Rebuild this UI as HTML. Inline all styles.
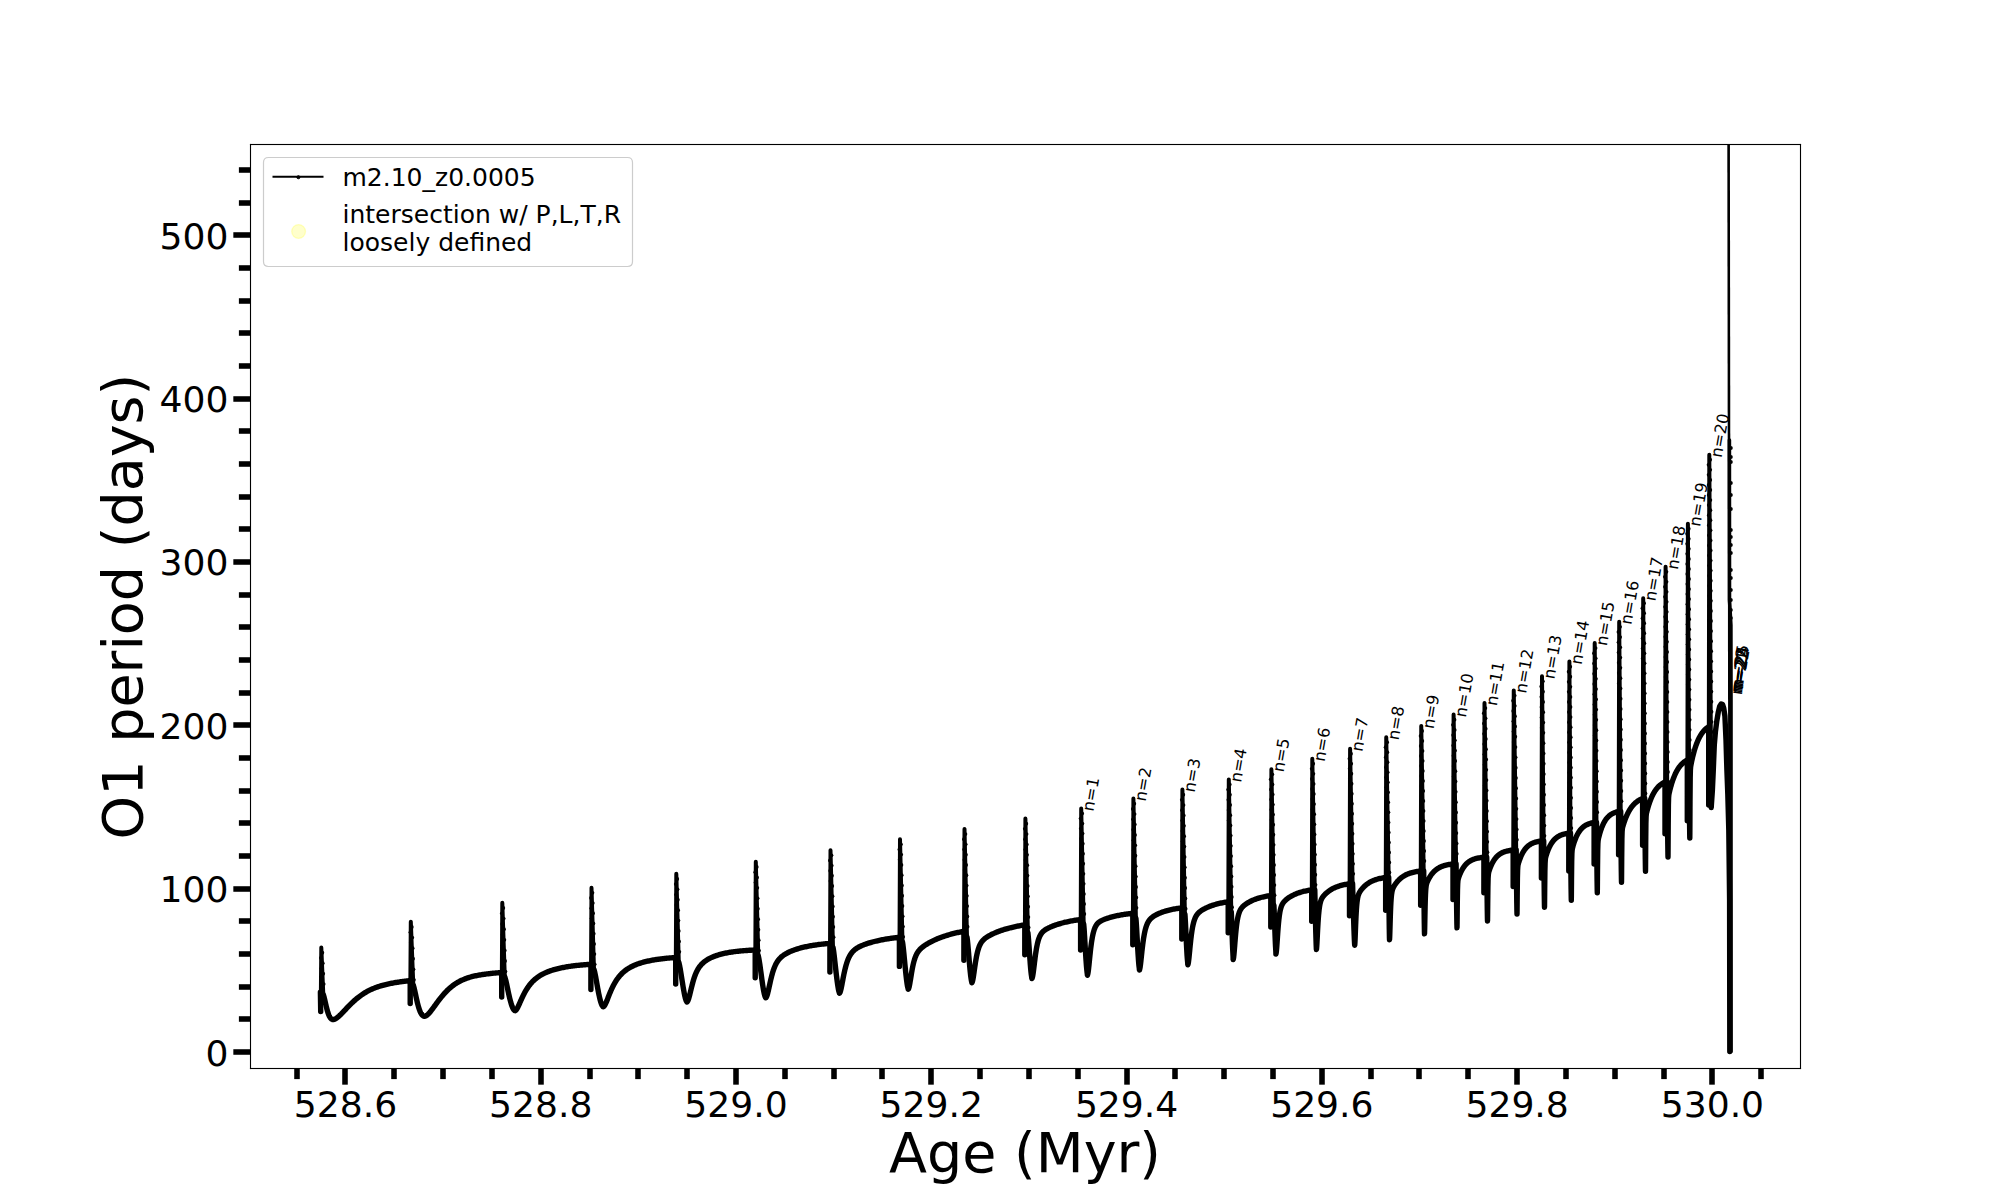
<!DOCTYPE html>
<html><head><meta charset="utf-8"><title>O1 period vs Age</title>
<style>html,body{margin:0;padding:0;background:#fff;}svg{display:block;}</style></head><body>
<svg width="2000" height="1200" viewBox="0 0 2000 1200">
<rect x="0" y="0" width="2000" height="1200" fill="#fff"/>
<clipPath id="ax"><rect x="250" y="144" width="1551" height="924"/></clipPath>
<g clip-path="url(#ax)" fill="none" stroke="#000" stroke-linejoin="round" stroke-linecap="round">
<path d="M320.4 992.2 L320.7 1011.5" stroke-width="5.4"/>
<path d="M323.3 994.55 L323.5 995.17 L323.7 995.84 L323.9 996.55 L324.1 997.3 L324.3 998.08 L324.5 998.89 L324.7 999.72 L324.9 1000.57 L325.1 1001.43 L325.3 1002.3 L325.5 1003.17 L325.7 1004.04 L325.9 1004.91 L326.1 1005.76 L326.3 1006.6 L326.5 1007.41 L326.7 1008.21 L326.9 1008.98 L327.1 1009.73 L327.3 1010.45 L327.5 1011.14 L327.7 1011.81 L327.9 1012.44 L328.1 1013.04 L328.3 1013.61 L328.5 1014.15 L328.7 1014.67 L328.9 1015.15 L329.1 1015.6 L329.3 1016.02 L329.5 1016.42 L329.7 1016.78 L329.9 1017.12 L330.1 1017.44 L330.3 1017.73 L330.5 1017.99 L330.7 1018.23 L330.9 1018.45 L331.1 1018.64 L331.3 1018.82 L331.5 1018.97 L331.7 1019.11 L331.9 1019.22 L332.1 1019.32 L332.3 1019.41 L332.5 1019.47 L332.7 1019.52 L332.75 1019.56 L332.8 1019.59 L332.85 1019.6 L332.9 1019.6 L333.1 1019.59 L333.3 1019.57 L333.5 1019.54 L333.7 1019.5 L333.9 1019.45 L334.1 1019.39 L334.3 1019.33 L334.5 1019.25 L334.7 1019.17 L334.9 1019.08 L335.1 1018.99 L335.3 1018.88 L335.5 1018.77 L335.7 1018.66 L335.9 1018.54 L336.1 1018.41 L336.3 1018.28 L336.5 1018.14 L336.7 1018 L336.9 1017.85 L337.1 1017.7 L337.3 1017.55 L337.5 1017.39 L337.7 1017.23 L337.9 1017.06 L338.1 1016.89 L338.3 1016.72 L338.5 1016.55 L338.7 1016.37 L338.9 1016.19 L339.1 1016.01 L339.3 1015.82 L339.5 1015.63 L339.7 1015.44 L339.9 1015.25 L340.1 1015.06 L340.3 1014.86 L340.5 1014.67 L340.7 1014.47 L340.9 1014.27 L341.1 1014.07 L341.3 1013.87 L341.5 1013.66 L341.7 1013.46 L341.9 1013.25 L342.1 1013.05 L342.3 1012.84 L342.5 1012.63 L342.7 1012.43 L342.9 1012.22 L343.1 1012.01 L343.3 1011.8 L343.5 1011.59 L343.7 1011.38 L343.9 1011.17 L344.1 1010.96 L344.3 1010.75 L344.5 1010.53 L344.7 1010.32 L345.7 1009.27 L346.7 1008.22 L347.7 1007.17 L348.7 1006.14 L349.7 1005.13 L350.7 1004.13 L351.7 1003.15 L352.7 1002.2 L353.7 1001.28 L354.7 1000.38 L355.7 999.5 L356.7 998.66 L357.7 997.84 L358.7 997.05 L359.7 996.29 L360.7 995.56 L361.7 994.86 L362.7 994.18 L363.7 993.53 L364.7 992.91 L365.7 992.32 L366.7 991.74 L367.7 991.19 L368.7 990.67 L369.7 990.17 L370.7 989.69 L371.7 989.23 L372.7 988.79 L373.7 988.37 L374.7 987.96 L375.7 987.58 L376.7 987.21 L377.7 986.86 L378.7 986.52 L379.7 986.2 L380.7 985.89 L381.7 985.6 L382.7 985.31 L383.7 985.04 L384.7 984.79 L385.7 984.54 L386.7 984.3 L387.7 984.07 L388.7 983.85 L389.7 983.64 L390.7 983.44 L391.7 983.24 L392.7 983.05 L393.7 982.87 L394.7 982.7 L395.7 982.53 L396.7 982.37 L397.7 982.21 L398.7 982.06 L399.7 981.91 L400.7 981.77 L401.7 981.63 L402.7 981.5 L403.7 981.37 L404.7 981.24 L405.7 981.12 L406.7 981 L407.7 980.89 L408.7 980.78 L409.7 980.66 L410.2 980.6 L410.2 1003.5" stroke-width="5.4"/>
<path d="M413.3 985.16 L413.5 985.8 L413.7 986.48 L413.9 987.21 L414.1 987.98 L414.3 988.78 L414.5 989.62 L414.7 990.49 L414.9 991.39 L415.1 992.3 L415.3 993.22 L415.5 994.16 L415.7 995.09 L415.9 996.03 L416.1 996.96 L416.3 997.89 L416.5 998.8 L416.7 999.7 L416.9 1000.58 L417.1 1001.44 L417.3 1002.28 L417.5 1003.1 L417.7 1003.9 L417.9 1004.66 L418.1 1005.41 L418.3 1006.13 L418.5 1006.82 L418.7 1007.49 L418.9 1008.13 L419.1 1008.74 L419.3 1009.33 L419.5 1009.89 L419.7 1010.42 L419.9 1010.93 L420.1 1011.41 L420.3 1011.87 L420.5 1012.3 L420.7 1012.71 L420.9 1013.09 L421.1 1013.45 L421.3 1013.79 L421.5 1014.1 L421.7 1014.38 L421.9 1014.65 L422.1 1014.89 L422.3 1015.11 L422.5 1015.31 L422.7 1015.49 L422.9 1015.65 L423.1 1015.79 L423.3 1015.92 L423.5 1016.02 L423.7 1016.11 L423.9 1016.18 L424.1 1016.23 L424.15 1016.27 L424.2 1016.29 L424.25 1016.3 L424.3 1016.3 L424.5 1016.28 L424.7 1016.25 L424.9 1016.21 L425.1 1016.15 L425.3 1016.09 L425.5 1016.01 L425.7 1015.92 L425.9 1015.82 L426.1 1015.72 L426.3 1015.6 L426.5 1015.47 L426.7 1015.33 L426.9 1015.19 L427.1 1015.03 L427.3 1014.87 L427.5 1014.7 L427.7 1014.53 L427.9 1014.34 L428.1 1014.15 L428.3 1013.96 L428.5 1013.75 L428.7 1013.55 L428.9 1013.33 L429.1 1013.11 L429.3 1012.89 L429.5 1012.66 L429.7 1012.43 L429.9 1012.19 L430.1 1011.95 L430.3 1011.71 L430.5 1011.46 L430.7 1011.22 L430.9 1010.96 L431.1 1010.71 L431.3 1010.45 L431.5 1010.19 L431.7 1009.93 L431.9 1009.67 L432.1 1009.4 L432.3 1009.13 L432.5 1008.87 L432.7 1008.6 L432.9 1008.33 L433.1 1008.06 L433.3 1007.78 L433.5 1007.51 L433.7 1007.24 L433.9 1006.96 L434.1 1006.69 L434.3 1006.41 L434.5 1006.14 L434.7 1005.86 L434.9 1005.59 L435.1 1005.31 L435.3 1005.04 L435.5 1004.76 L435.7 1004.49 L435.9 1004.21 L436.1 1003.94 L436.7 1003.12 L437.7 1001.76 L438.7 1000.43 L439.7 999.12 L440.7 997.85 L441.7 996.61 L442.7 995.41 L443.7 994.25 L444.7 993.13 L445.7 992.06 L446.7 991.02 L447.7 990.04 L448.7 989.09 L449.7 988.19 L450.7 987.33 L451.7 986.51 L452.7 985.73 L453.7 984.99 L454.7 984.29 L455.7 983.62 L456.7 982.99 L457.7 982.39 L458.7 981.82 L459.7 981.28 L460.7 980.77 L461.7 980.29 L462.7 979.84 L463.7 979.41 L464.7 979 L465.7 978.62 L466.7 978.26 L467.7 977.91 L468.7 977.59 L469.7 977.28 L470.7 976.99 L471.7 976.72 L472.7 976.46 L473.7 976.21 L474.7 975.98 L475.7 975.76 L476.7 975.55 L477.7 975.35 L478.7 975.16 L479.7 974.98 L480.7 974.81 L481.7 974.65 L482.7 974.5 L483.7 974.35 L484.7 974.21 L485.7 974.07 L486.7 973.94 L487.7 973.82 L488.7 973.7 L489.7 973.59 L490.7 973.48 L491.7 973.38 L492.7 973.27 L493.7 973.18 L494.7 973.08 L495.7 972.99 L496.7 972.91 L497.7 972.82 L498.7 972.74 L499.7 972.66 L500.7 972.58 L501.7 972.5 L501.7 972.5 L501.7 997" stroke-width="5.4"/>
<path d="M504.8 976.89 L505 977.51 L505.2 978.17 L505.4 978.88 L505.6 979.63 L505.8 980.42 L506 981.25 L506.2 982.11 L506.4 983 L506.6 983.91 L506.8 984.84 L507 985.79 L507.2 986.74 L507.4 987.7 L507.6 988.66 L507.8 989.62 L508 990.58 L508.2 991.53 L508.4 992.47 L508.6 993.39 L508.8 994.3 L509 995.2 L509.2 996.08 L509.4 996.94 L509.6 997.78 L509.8 998.6 L510 999.39 L510.2 1000.17 L510.4 1000.93 L510.6 1001.66 L510.8 1002.36 L511 1003.05 L511.2 1003.71 L511.4 1004.34 L511.6 1004.95 L511.8 1005.53 L512 1006.08 L512.2 1006.61 L512.4 1007.1 L512.6 1007.57 L512.8 1008.01 L513 1008.42 L513.2 1008.79 L513.4 1009.14 L513.6 1009.45 L513.8 1009.73 L514 1009.97 L514.2 1010.18 L514.4 1010.36 L514.6 1010.5 L514.8 1010.6 L515 1010.67 L515.2 1010.7 L515.25 1010.7 L515.3 1010.66 L515.35 1010.6 L515.4 1010.5 L515.6 1010.37 L515.8 1010.21 L516 1010.02 L516.2 1009.81 L516.4 1009.56 L516.6 1009.29 L516.8 1009 L517 1008.68 L517.2 1008.35 L517.4 1007.99 L517.6 1007.62 L517.8 1007.24 L518 1006.84 L518.2 1006.43 L518.4 1006.02 L518.6 1005.59 L518.8 1005.16 L519 1004.72 L519.2 1004.28 L519.4 1003.83 L519.6 1003.38 L519.8 1002.93 L520 1002.47 L520.2 1002.02 L520.4 1001.57 L520.6 1001.11 L520.8 1000.66 L521 1000.21 L521.2 999.77 L521.4 999.32 L521.6 998.88 L521.8 998.44 L522 998.01 L522.2 997.58 L522.4 997.15 L522.6 996.73 L522.8 996.31 L523 995.89 L523.2 995.49 L523.4 995.08 L523.6 994.68 L523.8 994.29 L524 993.9 L524.2 993.52 L524.4 993.14 L524.6 992.77 L524.8 992.4 L525 992.03 L525.2 991.68 L525.4 991.32 L525.6 990.98 L525.8 990.63 L526 990.3 L526.2 989.96 L526.4 989.64 L526.6 989.31 L526.8 988.99 L527 988.68 L527.2 988.37 L528.2 986.9 L529.2 985.53 L530.2 984.26 L531.2 983.08 L532.2 981.98 L533.2 980.96 L534.2 980.02 L535.2 979.13 L536.2 978.31 L537.2 977.54 L538.2 976.82 L539.2 976.15 L540.2 975.52 L541.2 974.92 L542.2 974.37 L543.2 973.84 L544.2 973.35 L545.2 972.88 L546.2 972.43 L547.2 972.01 L548.2 971.62 L549.2 971.24 L550.2 970.88 L551.2 970.54 L552.2 970.21 L553.2 969.9 L554.2 969.61 L555.2 969.33 L556.2 969.06 L557.2 968.8 L558.2 968.55 L559.2 968.32 L560.2 968.09 L561.2 967.88 L562.2 967.67 L563.2 967.48 L564.2 967.29 L565.2 967.11 L566.2 966.93 L567.2 966.77 L568.2 966.61 L569.2 966.45 L570.2 966.31 L571.2 966.16 L572.2 966.03 L573.2 965.9 L574.2 965.78 L575.2 965.66 L576.2 965.54 L577.2 965.43 L578.2 965.33 L579.2 965.23 L580.2 965.13 L581.2 965.03 L582.2 964.95 L583.2 964.86 L584.2 964.78 L585.2 964.7 L586.2 964.62 L587.2 964.55 L588.2 964.48 L589.2 964.41 L590.2 964.35 L590.9 964.3 L590.9 989.5" stroke-width="5.4"/>
<path d="M594 969.44 L594.2 970.16 L594.4 970.93 L594.6 971.75 L594.8 972.63 L595 973.55 L595.2 974.51 L595.4 975.52 L595.6 976.55 L595.8 977.62 L596 978.7 L596.2 979.81 L596.4 980.93 L596.6 982.05 L596.8 983.18 L597 984.31 L597.2 985.43 L597.4 986.55 L597.6 987.65 L597.8 988.74 L598 989.82 L598.2 990.87 L598.4 991.91 L598.6 992.92 L598.8 993.91 L599 994.87 L599.2 995.8 L599.4 996.71 L599.6 997.58 L599.8 998.42 L600 999.23 L600.2 1000.01 L600.4 1000.75 L600.6 1001.45 L600.8 1002.12 L601 1002.74 L601.2 1003.32 L601.4 1003.86 L601.6 1004.35 L601.8 1004.8 L602 1005.21 L602.2 1005.56 L602.4 1005.87 L602.6 1006.13 L602.8 1006.34 L603 1006.5 L603.15 1006.61 L603.2 1006.68 L603.2 1006.7 L603.25 1006.68 L603.4 1006.62 L603.6 1006.52 L603.8 1006.37 L604 1006.19 L604.2 1005.97 L604.4 1005.72 L604.6 1005.43 L604.8 1005.12 L605 1004.78 L605.2 1004.41 L605.4 1004.02 L605.6 1003.62 L605.8 1003.19 L606 1002.75 L606.2 1002.3 L606.4 1001.83 L606.6 1001.35 L606.8 1000.87 L607 1000.38 L607.2 999.88 L607.4 999.38 L607.6 998.88 L607.8 998.37 L608 997.86 L608.2 997.35 L608.4 996.84 L608.6 996.33 L608.8 995.83 L609 995.32 L609.2 994.82 L609.4 994.32 L609.6 993.83 L609.8 993.34 L610 992.85 L610.2 992.37 L610.4 991.89 L610.6 991.42 L610.8 990.96 L611 990.5 L611.2 990.04 L611.4 989.59 L611.6 989.15 L611.8 988.71 L612 988.28 L612.2 987.86 L612.4 987.44 L612.6 987.02 L612.8 986.62 L613 986.22 L613.2 985.82 L613.4 985.43 L613.6 985.05 L613.8 984.68 L614 984.31 L614.2 983.94 L614.4 983.58 L614.6 983.23 L614.8 982.88 L615 982.54 L615.4 981.87 L616.4 980.29 L617.4 978.84 L618.4 977.49 L619.4 976.24 L620.4 975.09 L621.4 974.03 L622.4 973.04 L623.4 972.12 L624.4 971.27 L625.4 970.48 L626.4 969.74 L627.4 969.05 L628.4 968.41 L629.4 967.8 L630.4 967.24 L631.4 966.71 L632.4 966.21 L633.4 965.74 L634.4 965.29 L635.4 964.87 L636.4 964.48 L637.4 964.1 L638.4 963.74 L639.4 963.4 L640.4 963.08 L641.4 962.78 L642.4 962.48 L643.4 962.2 L644.4 961.94 L645.4 961.69 L646.4 961.44 L647.4 961.21 L648.4 960.99 L649.4 960.78 L650.4 960.58 L651.4 960.38 L652.4 960.2 L653.4 960.02 L654.4 959.85 L655.4 959.69 L656.4 959.53 L657.4 959.38 L658.4 959.24 L659.4 959.1 L660.4 958.97 L661.4 958.84 L662.4 958.72 L663.4 958.6 L664.4 958.49 L665.4 958.38 L666.4 958.28 L667.4 958.18 L668.4 958.09 L669.4 958 L670.4 957.91 L671.4 957.83 L672.4 957.75 L673.4 957.67 L674.4 957.6 L675.4 957.53 L675.7 957.5 L675.7 984" stroke-width="5.4"/>
<path d="M678.8 962.26 L679 963.01 L679.2 963.83 L679.4 964.72 L679.6 965.66 L679.8 966.66 L680 967.72 L680.2 968.82 L680.4 969.97 L680.6 971.14 L680.8 972.35 L681 973.59 L681.2 974.84 L681.4 976.1 L681.6 977.37 L681.8 978.64 L682 979.91 L682.2 981.18 L682.4 982.43 L682.6 983.68 L682.8 984.91 L683 986.13 L683.2 987.33 L683.4 988.5 L683.6 989.65 L683.8 990.77 L684 991.86 L684.2 992.91 L684.4 993.93 L684.6 994.91 L684.8 995.84 L685 996.72 L685.2 997.55 L685.4 998.32 L685.6 999.02 L685.8 999.66 L686 1000.23 L686.2 1000.73 L686.4 1001.14 L686.6 1001.48 L686.8 1001.73 L686.85 1001.9 L686.9 1001.99 L686.95 1002 L687 1001.94 L687.2 1001.8 L687.4 1001.58 L687.6 1001.28 L687.8 1000.92 L688 1000.48 L688.2 999.99 L688.4 999.44 L688.6 998.84 L688.8 998.19 L689 997.51 L689.2 996.79 L689.4 996.04 L689.6 995.26 L689.8 994.47 L690 993.66 L690.2 992.84 L690.4 992.02 L690.6 991.19 L690.8 990.36 L691 989.53 L691.2 988.7 L691.4 987.89 L691.6 987.08 L691.8 986.28 L692 985.49 L692.2 984.71 L692.4 983.95 L692.6 983.2 L692.8 982.47 L693 981.76 L693.2 981.06 L693.4 980.38 L693.6 979.71 L693.8 979.06 L694 978.43 L694.2 977.82 L694.4 977.23 L694.6 976.65 L694.8 976.09 L695 975.54 L695.2 975.01 L695.4 974.5 L695.6 974 L695.8 973.52 L696 973.05 L696.2 972.59 L696.4 972.15 L696.6 971.73 L696.8 971.32 L697 970.91 L697.2 970.53 L697.4 970.15 L697.6 969.78 L697.8 969.43 L698 969.08 L698.2 968.75 L698.4 968.42 L698.6 968.11 L698.8 967.8 L699.2 967.21 L700.2 965.88 L701.2 964.7 L702.2 963.66 L703.2 962.73 L704.2 961.89 L705.2 961.12 L706.2 960.43 L707.2 959.79 L708.2 959.19 L709.2 958.64 L710.2 958.13 L711.2 957.65 L712.2 957.2 L713.2 956.78 L714.2 956.38 L715.2 956.01 L716.2 955.65 L717.2 955.32 L718.2 955 L719.2 954.7 L720.2 954.42 L721.2 954.15 L722.2 953.89 L723.2 953.65 L724.2 953.42 L725.2 953.21 L726.2 953 L727.2 952.8 L728.2 952.62 L729.2 952.44 L730.2 952.27 L731.2 952.12 L732.2 951.96 L733.2 951.82 L734.2 951.69 L735.2 951.56 L736.2 951.44 L737.2 951.32 L738.2 951.21 L739.2 951.11 L740.2 951.01 L741.2 950.91 L742.2 950.82 L743.2 950.74 L744.2 950.66 L745.2 950.58 L746.2 950.51 L747.2 950.44 L748.2 950.38 L749.2 950.31 L750.2 950.25 L751.2 950.2 L752.2 950.15 L753.2 950.1 L754.2 950.05 L755.2 950 L755.2 977.7" stroke-width="5.4"/>
<path d="M758.3 955.83 L758.5 956.73 L758.7 957.71 L758.9 958.76 L759.1 959.89 L759.3 961.09 L759.5 962.34 L759.7 963.65 L759.9 965.01 L760.1 966.4 L760.3 967.83 L760.5 969.28 L760.7 970.75 L760.9 972.23 L761.1 973.71 L761.3 975.19 L761.5 976.66 L761.7 978.12 L761.9 979.56 L762.1 980.98 L762.3 982.38 L762.5 983.74 L762.7 985.06 L762.9 986.35 L763.1 987.59 L763.3 988.79 L763.5 989.93 L763.7 991.01 L763.9 992.03 L764.1 992.98 L764.3 993.85 L764.5 994.65 L764.7 995.37 L764.9 995.99 L765.1 996.53 L765.3 996.97 L765.5 997.32 L765.55 997.57 L765.6 997.73 L765.65 997.8 L765.7 997.78 L765.9 997.67 L766.1 997.48 L766.3 997.19 L766.5 996.82 L766.7 996.38 L766.9 995.86 L767.1 995.28 L767.3 994.64 L767.5 993.94 L767.7 993.2 L767.9 992.42 L768.1 991.61 L768.3 990.76 L768.5 989.89 L768.7 989.01 L768.9 988.11 L769.1 987.2 L769.3 986.29 L769.5 985.38 L769.7 984.46 L769.9 983.56 L770.1 982.66 L770.3 981.77 L770.5 980.89 L770.7 980.02 L770.9 979.18 L771.1 978.34 L771.3 977.53 L771.5 976.73 L771.7 975.95 L771.9 975.2 L772.1 974.46 L772.3 973.74 L772.5 973.04 L772.7 972.36 L772.9 971.71 L773.1 971.07 L773.3 970.46 L773.5 969.86 L773.7 969.28 L773.9 968.72 L774.1 968.18 L774.3 967.66 L774.5 967.16 L774.7 966.67 L774.9 966.2 L775.1 965.74 L775.3 965.3 L775.5 964.88 L775.7 964.47 L775.9 964.07 L776.1 963.69 L776.3 963.32 L776.5 962.96 L776.7 962.61 L776.9 962.28 L777.1 961.96 L777.3 961.64 L777.5 961.34 L777.7 961.04 L778.7 959.7 L779.7 958.54 L780.7 957.52 L781.7 956.62 L782.7 955.82 L783.7 955.1 L784.7 954.44 L785.7 953.83 L786.7 953.27 L787.7 952.74 L788.7 952.25 L789.7 951.79 L790.7 951.35 L791.7 950.94 L792.7 950.54 L793.7 950.17 L794.7 949.81 L795.7 949.47 L796.7 949.14 L797.7 948.83 L798.7 948.53 L799.7 948.24 L800.7 947.97 L801.7 947.7 L802.7 947.45 L803.7 947.21 L804.7 946.98 L805.7 946.75 L806.7 946.54 L807.7 946.33 L808.7 946.14 L809.7 945.95 L810.7 945.76 L811.7 945.59 L812.7 945.42 L813.7 945.26 L814.7 945.11 L815.7 944.96 L816.7 944.82 L817.7 944.68 L818.7 944.55 L819.7 944.43 L820.7 944.31 L821.7 944.19 L822.7 944.08 L823.7 943.97 L824.7 943.87 L825.7 943.77 L826.7 943.68 L827.7 943.59 L828.7 943.51 L829.7 943.42 L829.9 943.4 L829.9 972" stroke-width="5.4"/>
<path d="M833 947.36 L833.2 948.42 L833.4 949.63 L833.6 950.98 L833.8 952.45 L834 954.02 L834.2 955.67 L834.4 957.39 L834.6 959.15 L834.8 960.94 L835 962.74 L835.2 964.55 L835.4 966.34 L835.6 968.13 L835.8 969.89 L836 971.64 L836.2 973.35 L836.4 975.04 L836.6 976.69 L836.8 978.31 L837 979.89 L837.2 981.42 L837.4 982.9 L837.6 984.31 L837.8 985.66 L838 986.93 L838.2 988.11 L838.4 989.2 L838.6 990.17 L838.8 991.02 L839 991.73 L839.2 992.31 L839.35 992.74 L839.4 993.03 L839.4 993.18 L839.45 993.2 L839.6 993.08 L839.8 992.83 L840 992.45 L840.2 991.96 L840.4 991.36 L840.6 990.67 L840.8 989.9 L841 989.06 L841.2 988.15 L841.4 987.2 L841.6 986.21 L841.8 985.19 L842 984.15 L842.2 983.1 L842.4 982.03 L842.6 980.97 L842.8 979.91 L843 978.85 L843.2 977.81 L843.4 976.79 L843.6 975.78 L843.8 974.79 L844 973.82 L844.2 972.88 L844.4 971.96 L844.6 971.07 L844.8 970.2 L845 969.35 L845.2 968.53 L845.4 967.74 L845.6 966.97 L845.8 966.23 L846 965.51 L846.2 964.82 L846.4 964.15 L846.6 963.5 L846.8 962.88 L847 962.27 L847.2 961.69 L847.4 961.13 L847.6 960.59 L847.8 960.06 L848 959.56 L848.2 959.07 L848.4 958.6 L848.6 958.15 L848.8 957.71 L849 957.29 L849.2 956.89 L849.4 956.49 L849.6 956.11 L849.8 955.75 L850 955.4 L850.2 955.06 L850.4 954.73 L850.6 954.41 L850.8 954.1 L851 953.81 L851.2 953.52 L851.4 953.25 L852.4 951.99 L853.4 950.92 L854.4 950 L855.4 949.19 L856.4 948.48 L857.4 947.84 L858.4 947.26 L859.4 946.73 L860.4 946.24 L861.4 945.79 L862.4 945.36 L863.4 944.95 L864.4 944.57 L865.4 944.2 L866.4 943.85 L867.4 943.51 L868.4 943.19 L869.4 942.88 L870.4 942.58 L871.4 942.3 L872.4 942.02 L873.4 941.75 L874.4 941.5 L875.4 941.25 L876.4 941.01 L877.4 940.78 L878.4 940.55 L879.4 940.34 L880.4 940.13 L881.4 939.93 L882.4 939.74 L883.4 939.55 L884.4 939.37 L885.4 939.2 L886.4 939.03 L887.4 938.87 L888.4 938.71 L889.4 938.56 L890.4 938.41 L891.4 938.27 L892.4 938.13 L893.4 938 L894.4 937.87 L895.4 937.75 L896.4 937.63 L897.4 937.52 L898.4 937.41 L899.4 937.3 L899.4 966.4" stroke-width="5.4"/>
<path d="M902.5 942 L902.7 943.25 L902.9 944.68 L903.1 946.26 L903.3 947.99 L903.5 949.83 L903.7 951.77 L903.9 953.79 L904.1 955.85 L904.3 957.94 L904.5 960.03 L904.7 962.13 L904.9 964.21 L905.1 966.27 L905.3 968.29 L905.5 970.28 L905.7 972.22 L905.9 974.11 L906.1 975.94 L906.3 977.7 L906.5 979.38 L906.7 980.97 L906.9 982.47 L907.1 983.84 L907.3 985.09 L907.5 986.19 L907.7 987.13 L907.9 987.9 L908.1 988.5 L908.15 988.9 L908.2 989.14 L908.25 989.2 L908.3 989.09 L908.5 988.81 L908.7 988.37 L908.9 987.77 L909.1 987.04 L909.3 986.18 L909.5 985.22 L909.7 984.18 L909.9 983.06 L910.1 981.89 L910.3 980.68 L910.5 979.45 L910.7 978.2 L910.9 976.95 L911.1 975.71 L911.3 974.48 L911.5 973.28 L911.7 972.1 L911.9 970.95 L912.1 969.84 L912.3 968.76 L912.5 967.73 L912.7 966.73 L912.9 965.77 L913.1 964.86 L913.3 963.98 L913.5 963.14 L913.7 962.34 L913.9 961.58 L914.1 960.86 L914.3 960.16 L914.5 959.51 L914.7 958.88 L914.9 958.28 L915.1 957.71 L915.3 957.17 L915.5 956.66 L915.7 956.16 L915.9 955.7 L916.1 955.25 L916.3 954.82 L916.5 954.41 L916.7 954.02 L916.9 953.65 L917.1 953.29 L917.3 952.94 L917.5 952.61 L917.7 952.3 L917.9 951.99 L918.1 951.7 L918.3 951.42 L918.5 951.15 L918.7 950.88 L918.9 950.63 L919.1 950.38 L919.3 950.15 L919.5 949.92 L919.7 949.69 L919.9 949.48 L920.1 949.27 L920.9 948.48 L921.9 947.59 L922.9 946.79 L923.9 946.05 L924.9 945.36 L925.9 944.71 L926.9 944.09 L927.9 943.5 L928.9 942.93 L929.9 942.38 L930.9 941.85 L931.9 941.34 L932.9 940.85 L933.9 940.37 L934.9 939.91 L935.9 939.46 L936.9 939.03 L937.9 938.61 L938.9 938.2 L939.9 937.81 L940.9 937.43 L941.9 937.06 L942.9 936.7 L943.9 936.35 L944.9 936.02 L945.9 935.69 L946.9 935.38 L947.9 935.07 L948.9 934.77 L949.9 934.49 L950.9 934.21 L951.9 933.94 L952.9 933.68 L953.9 933.43 L954.9 933.19 L955.9 932.95 L956.9 932.72 L957.9 932.5 L958.9 932.28 L959.9 932.07 L960.9 931.87 L961.9 931.68 L962.9 931.49 L963.9 931.3 L963.9 960.2" stroke-width="5.4"/>
<path d="M967 937.01 L967.2 938.5 L967.4 940.18 L967.6 942.05 L967.8 944.09 L968 946.25 L968.2 948.52 L968.4 950.87 L968.6 953.26 L968.8 955.67 L969 958.07 L969.2 960.45 L969.4 962.79 L969.6 965.07 L969.8 967.27 L970 969.4 L970.2 971.42 L970.4 973.33 L970.6 975.1 L970.8 976.72 L971 978.18 L971.2 979.45 L971.4 980.53 L971.6 981.39 L971.75 982.04 L971.8 982.46 L971.8 982.68 L971.85 982.7 L972 982.52 L972.2 982.13 L972.4 981.56 L972.6 980.82 L972.8 979.93 L973 978.91 L973.2 977.77 L973.4 976.55 L973.6 975.26 L973.8 973.92 L974 972.54 L974.2 971.14 L974.4 969.73 L974.6 968.33 L974.8 966.94 L975 965.58 L975.2 964.25 L975.4 962.95 L975.6 961.69 L975.8 960.48 L976 959.31 L976.2 958.19 L976.4 957.11 L976.6 956.09 L976.8 955.11 L977 954.18 L977.2 953.29 L977.4 952.45 L977.6 951.65 L977.8 950.9 L978 950.18 L978.2 949.5 L978.4 948.85 L978.6 948.24 L978.8 947.66 L979 947.11 L979.2 946.59 L979.4 946.1 L979.6 945.63 L979.8 945.18 L980 944.76 L980.2 944.35 L980.4 943.97 L980.6 943.6 L980.8 943.25 L981 942.92 L981.2 942.6 L981.4 942.3 L981.6 942.01 L981.8 941.73 L982 941.46 L982.2 941.21 L982.4 940.96 L982.6 940.73 L982.8 940.5 L983 940.28 L983.2 940.07 L983.4 939.86 L983.6 939.66 L984.4 938.93 L985.4 938.12 L986.4 937.4 L987.4 936.74 L988.4 936.14 L989.4 935.57 L990.4 935.04 L991.4 934.53 L992.4 934.04 L993.4 933.58 L994.4 933.13 L995.4 932.7 L996.4 932.28 L997.4 931.88 L998.4 931.49 L999.4 931.12 L1000.4 930.76 L1001.4 930.41 L1002.4 930.07 L1003.4 929.74 L1004.4 929.43 L1005.4 929.13 L1006.4 928.83 L1007.4 928.55 L1008.4 928.28 L1009.4 928.01 L1010.4 927.76 L1011.4 927.51 L1012.4 927.27 L1013.4 927.04 L1014.4 926.82 L1015.4 926.6 L1016.4 926.39 L1017.4 926.19 L1018.4 926 L1019.4 925.81 L1020.4 925.63 L1021.4 925.45 L1022.4 925.28 L1023.4 925.12 L1024.4 924.97 L1024.8 924.9 L1024.8 954.7" stroke-width="5.4"/>
<path d="M1027.9 932.61 L1028.1 934.52 L1028.3 936.69 L1028.5 939.08 L1028.7 941.66 L1028.9 944.39 L1029.1 947.23 L1029.3 950.14 L1029.5 953.07 L1029.7 955.98 L1029.9 958.83 L1030.1 961.59 L1030.3 964.23 L1030.5 966.72 L1030.7 969.02 L1030.9 971.12 L1031.1 972.99 L1031.3 974.6 L1031.5 975.95 L1031.7 977.01 L1031.75 977.78 L1031.8 978.27 L1031.85 978.5 L1031.9 978.47 L1032.1 978.18 L1032.3 977.65 L1032.5 976.89 L1032.7 975.93 L1032.9 974.8 L1033.1 973.53 L1033.3 972.13 L1033.5 970.64 L1033.7 969.07 L1033.9 967.46 L1034.1 965.82 L1034.3 964.17 L1034.5 962.53 L1034.7 960.9 L1034.9 959.3 L1035.1 957.74 L1035.3 956.23 L1035.5 954.76 L1035.7 953.36 L1035.9 952.01 L1036.1 950.72 L1036.3 949.49 L1036.5 948.32 L1036.7 947.21 L1036.9 946.16 L1037.1 945.17 L1037.3 944.23 L1037.5 943.35 L1037.7 942.52 L1037.9 941.73 L1038.1 941 L1038.3 940.3 L1038.5 939.65 L1038.7 939.03 L1038.9 938.45 L1039.1 937.91 L1039.3 937.4 L1039.5 936.91 L1039.7 936.46 L1039.9 936.03 L1040.1 935.62 L1040.3 935.24 L1040.5 934.87 L1040.7 934.53 L1040.9 934.2 L1041.1 933.89 L1041.3 933.6 L1041.5 933.32 L1041.7 933.05 L1041.9 932.8 L1042.1 932.56 L1042.3 932.33 L1042.5 932.11 L1042.7 931.89 L1042.9 931.69 L1043.1 931.5 L1043.3 931.31 L1043.5 931.13 L1043.7 930.96 L1044.3 930.47 L1045.3 929.75 L1046.3 929.12 L1047.3 928.56 L1048.3 928.04 L1049.3 927.56 L1050.3 927.1 L1051.3 926.67 L1052.3 926.27 L1053.3 925.88 L1054.3 925.5 L1055.3 925.14 L1056.3 924.8 L1057.3 924.47 L1058.3 924.15 L1059.3 923.85 L1060.3 923.55 L1061.3 923.27 L1062.3 923 L1063.3 922.74 L1064.3 922.49 L1065.3 922.24 L1066.3 922.01 L1067.3 921.79 L1068.3 921.57 L1069.3 921.36 L1070.3 921.16 L1071.3 920.97 L1072.3 920.79 L1073.3 920.61 L1074.3 920.44 L1075.3 920.28 L1076.3 920.12 L1077.3 919.96 L1078.3 919.82 L1079.3 919.68 L1080.3 919.54 L1080.6 919.5 L1080.6 950" stroke-width="5.4"/>
<path d="M1083.7 924.05 L1083.9 926.19 L1084.1 928.78 L1084.3 931.74 L1084.5 934.97 L1084.7 938.35 L1084.9 941.79 L1085.1 945.22 L1085.3 948.61 L1085.5 951.92 L1085.7 955.13 L1085.9 958.23 L1086.1 961.18 L1086.3 963.96 L1086.5 966.53 L1086.7 968.84 L1086.9 970.84 L1087.1 972.49 L1087.3 973.76 L1087.35 974.61 L1087.4 975.09 L1087.45 975.2 L1087.5 974.96 L1087.7 974.39 L1087.9 973.5 L1088.1 972.33 L1088.3 970.92 L1088.5 969.32 L1088.7 967.55 L1088.9 965.68 L1089.1 963.73 L1089.3 961.74 L1089.5 959.74 L1089.7 957.75 L1089.9 955.8 L1090.1 953.9 L1090.3 952.05 L1090.5 950.27 L1090.7 948.56 L1090.9 946.93 L1091.1 945.37 L1091.3 943.89 L1091.5 942.48 L1091.7 941.15 L1091.9 939.89 L1092.1 938.7 L1092.3 937.58 L1092.5 936.52 L1092.7 935.53 L1092.9 934.59 L1093.1 933.71 L1093.3 932.89 L1093.5 932.11 L1093.7 931.39 L1093.9 930.7 L1094.1 930.06 L1094.3 929.46 L1094.5 928.9 L1094.7 928.37 L1094.9 927.88 L1095.1 927.41 L1095.3 926.98 L1095.5 926.57 L1095.7 926.18 L1095.9 925.82 L1096.1 925.48 L1096.3 925.16 L1096.5 924.86 L1096.7 924.57 L1096.9 924.3 L1097.1 924.05 L1097.3 923.81 L1097.5 923.58 L1097.7 923.37 L1097.9 923.16 L1098.1 922.96 L1098.3 922.78 L1098.5 922.6 L1098.7 922.43 L1098.9 922.27 L1099.1 922.11 L1099.3 921.96 L1100.1 921.42 L1101.1 920.83 L1102.1 920.33 L1103.1 919.87 L1104.1 919.45 L1105.1 919.07 L1106.1 918.71 L1107.1 918.37 L1108.1 918.04 L1109.1 917.74 L1110.1 917.44 L1111.1 917.16 L1112.1 916.89 L1113.1 916.64 L1114.1 916.39 L1115.1 916.16 L1116.1 915.93 L1117.1 915.71 L1118.1 915.51 L1119.1 915.31 L1120.1 915.12 L1121.1 914.94 L1122.1 914.76 L1123.1 914.6 L1124.1 914.44 L1125.1 914.28 L1126.1 914.14 L1127.1 914 L1128.1 913.86 L1129.1 913.73 L1130.1 913.61 L1131.1 913.49 L1132.1 913.38 L1132.8 913.3 L1132.8 944.8" stroke-width="5.4"/>
<path d="M1135.9 918.21 L1136.1 920.51 L1136.3 923.3 L1136.5 926.48 L1136.7 929.94 L1136.9 933.56 L1137.1 937.24 L1137.3 940.91 L1137.5 944.51 L1137.7 948.02 L1137.9 951.39 L1138.1 954.62 L1138.3 957.66 L1138.5 960.46 L1138.7 962.99 L1138.9 965.18 L1139.1 966.98 L1139.3 968.37 L1139.35 969.31 L1139.4 969.85 L1139.45 970 L1139.5 969.79 L1139.7 969.24 L1139.9 968.39 L1140.1 967.26 L1140.3 965.9 L1140.5 964.36 L1140.7 962.68 L1140.9 960.9 L1141.1 959.05 L1141.3 957.17 L1141.5 955.28 L1141.7 953.41 L1141.9 951.57 L1142.1 949.77 L1142.3 948.03 L1142.5 946.35 L1142.7 944.73 L1142.9 943.19 L1143.1 941.71 L1143.3 940.3 L1143.5 938.97 L1143.7 937.7 L1143.9 936.49 L1144.1 935.35 L1144.3 934.27 L1144.5 933.25 L1144.7 932.28 L1144.9 931.37 L1145.1 930.51 L1145.3 929.7 L1145.5 928.93 L1145.7 928.21 L1145.9 927.53 L1146.1 926.89 L1146.3 926.28 L1146.5 925.71 L1146.7 925.17 L1146.9 924.66 L1147.1 924.17 L1147.3 923.72 L1147.5 923.29 L1147.7 922.88 L1147.9 922.49 L1148.1 922.12 L1148.3 921.78 L1148.5 921.44 L1148.7 921.13 L1148.9 920.83 L1149.1 920.54 L1149.3 920.27 L1149.5 920.01 L1149.7 919.76 L1149.9 919.52 L1150.1 919.29 L1150.3 919.07 L1150.5 918.85 L1150.7 918.65 L1150.9 918.45 L1151.1 918.26 L1151.3 918.08 L1152.3 917.24 L1153.3 916.51 L1154.3 915.86 L1155.3 915.27 L1156.3 914.73 L1157.3 914.23 L1158.3 913.76 L1159.3 913.32 L1160.3 912.9 L1161.3 912.51 L1162.3 912.15 L1163.3 911.8 L1164.3 911.47 L1165.3 911.16 L1166.3 910.87 L1167.3 910.59 L1168.3 910.33 L1169.3 910.08 L1170.3 909.84 L1171.3 909.62 L1172.3 909.41 L1173.3 909.21 L1174.3 909.02 L1175.3 908.85 L1176.3 908.68 L1177.3 908.52 L1178.3 908.37 L1179.3 908.22 L1180.3 908.09 L1181.3 907.96 L1181.8 907.9 L1181.8 939" stroke-width="5.4"/>
<path d="M1184.9 913.94 L1185.1 916.74 L1185.3 920.1 L1185.5 923.93 L1185.7 928.07 L1185.9 932.36 L1186.1 936.68 L1186.3 940.93 L1186.5 945.03 L1186.7 948.9 L1186.9 952.48 L1187.1 955.71 L1187.3 958.51 L1187.5 960.82 L1187.7 962.61 L1187.75 963.84 L1187.8 964.56 L1187.85 964.8 L1187.9 964.61 L1188.1 964 L1188.3 963.03 L1188.5 961.75 L1188.7 960.21 L1188.9 958.46 L1189.1 956.56 L1189.3 954.55 L1189.5 952.49 L1189.7 950.4 L1189.9 948.33 L1190.1 946.29 L1190.3 944.29 L1190.5 942.37 L1190.7 940.52 L1190.9 938.75 L1191.1 937.07 L1191.3 935.47 L1191.5 933.96 L1191.7 932.54 L1191.9 931.19 L1192.1 929.93 L1192.3 928.74 L1192.5 927.63 L1192.7 926.58 L1192.9 925.6 L1193.1 924.68 L1193.3 923.82 L1193.5 923.01 L1193.7 922.25 L1193.9 921.54 L1194.1 920.88 L1194.3 920.25 L1194.5 919.67 L1194.7 919.12 L1194.9 918.6 L1195.1 918.12 L1195.3 917.66 L1195.5 917.23 L1195.7 916.83 L1195.9 916.45 L1196.1 916.08 L1196.3 915.74 L1196.5 915.42 L1196.7 915.11 L1196.9 914.82 L1197.1 914.54 L1197.3 914.28 L1197.5 914.02 L1197.7 913.78 L1197.9 913.55 L1198.1 913.33 L1198.3 913.11 L1198.5 912.91 L1198.7 912.71 L1198.9 912.52 L1199.1 912.33 L1199.3 912.15 L1199.5 911.98 L1199.7 911.81 L1200.3 911.33 L1201.3 910.61 L1202.3 909.96 L1203.3 909.36 L1204.3 908.81 L1205.3 908.29 L1206.3 907.81 L1207.3 907.35 L1208.3 906.91 L1209.3 906.51 L1210.3 906.12 L1211.3 905.75 L1212.3 905.41 L1213.3 905.08 L1214.3 904.76 L1215.3 904.47 L1216.3 904.19 L1217.3 903.93 L1218.3 903.67 L1219.3 903.44 L1220.3 903.21 L1221.3 903 L1222.3 902.8 L1223.3 902.6 L1224.3 902.42 L1225.3 902.25 L1226.3 902.09 L1227.3 901.93 L1228.2 901.8 L1228.2 932.8" stroke-width="5.4"/>
<path d="M1231.3 912.24 L1231.5 916.66 L1231.7 921.88 L1231.9 927.63 L1232.1 933.6 L1232.3 939.44 L1232.5 944.84 L1232.7 949.55 L1232.9 953.4 L1233.05 956.29 L1233.1 958.23 L1233.1 959.3 L1233.15 959.6 L1233.3 959.22 L1233.5 958.25 L1233.7 956.79 L1233.9 954.94 L1234.1 952.8 L1234.3 950.45 L1234.5 947.98 L1234.7 945.44 L1234.9 942.91 L1235.1 940.41 L1235.3 937.99 L1235.5 935.66 L1235.7 933.46 L1235.9 931.38 L1236.1 929.43 L1236.3 927.62 L1236.5 925.93 L1236.7 924.37 L1236.9 922.92 L1237.1 921.59 L1237.3 920.36 L1237.5 919.23 L1237.7 918.19 L1237.9 917.23 L1238.1 916.35 L1238.3 915.53 L1238.5 914.78 L1238.7 914.08 L1238.9 913.44 L1239.1 912.84 L1239.3 912.29 L1239.5 911.77 L1239.7 911.3 L1239.9 910.85 L1240.1 910.43 L1240.3 910.04 L1240.5 909.68 L1240.7 909.34 L1240.9 909.01 L1241.1 908.71 L1241.3 908.42 L1241.5 908.14 L1241.7 907.88 L1241.9 907.63 L1242.1 907.39 L1242.3 907.16 L1242.5 906.94 L1242.7 906.73 L1242.9 906.53 L1243.1 906.33 L1243.3 906.14 L1243.5 905.95 L1243.7 905.77 L1243.9 905.6 L1244.1 905.43 L1244.3 905.26 L1244.5 905.1 L1244.7 904.94 L1244.9 904.79 L1245.7 904.2 L1246.7 903.52 L1247.7 902.89 L1248.7 902.3 L1249.7 901.75 L1250.7 901.24 L1251.7 900.76 L1252.7 900.3 L1253.7 899.88 L1254.7 899.47 L1255.7 899.1 L1256.7 898.74 L1257.7 898.41 L1258.7 898.1 L1259.7 897.8 L1260.7 897.52 L1261.7 897.26 L1262.7 897.02 L1263.7 896.79 L1264.7 896.57 L1265.7 896.37 L1266.7 896.18 L1267.7 895.99 L1268.7 895.82 L1269.7 895.67 L1270.7 895.52 L1270.8 895.5 L1270.8 927" stroke-width="5.4"/>
<path d="M1273.9 905.2 L1274.1 909.34 L1274.3 914.24 L1274.5 919.7 L1274.7 925.43 L1274.9 931.16 L1275.1 936.6 L1275.3 941.52 L1275.5 945.75 L1275.7 949.15 L1275.85 951.64 L1275.9 953.24 L1275.9 954 L1275.95 953.99 L1276.1 953.26 L1276.3 951.89 L1276.5 949.98 L1276.7 947.65 L1276.9 945.01 L1277.1 942.17 L1277.3 939.25 L1277.5 936.31 L1277.7 933.43 L1277.9 930.67 L1278.1 928.05 L1278.3 925.6 L1278.5 923.33 L1278.7 921.24 L1278.9 919.33 L1279.1 917.59 L1279.3 916.02 L1279.5 914.59 L1279.7 913.31 L1279.9 912.15 L1280.1 911.1 L1280.3 910.15 L1280.5 909.3 L1280.7 908.52 L1280.9 907.82 L1281.1 907.18 L1281.3 906.6 L1281.5 906.06 L1281.7 905.57 L1281.9 905.12 L1282.1 904.7 L1282.3 904.31 L1282.5 903.95 L1282.7 903.61 L1282.9 903.29 L1283.1 902.99 L1283.3 902.71 L1283.5 902.44 L1283.7 902.18 L1283.9 901.93 L1284.1 901.7 L1284.3 901.47 L1284.5 901.26 L1284.7 901.05 L1284.9 900.84 L1285.1 900.64 L1285.3 900.45 L1285.5 900.27 L1285.7 900.08 L1285.9 899.91 L1286.1 899.73 L1286.3 899.56 L1286.5 899.39 L1286.7 899.23 L1286.9 899.07 L1287.1 898.91 L1287.3 898.76 L1287.5 898.61 L1287.7 898.46 L1288.3 898.02 L1289.3 897.34 L1290.3 896.71 L1291.3 896.12 L1292.3 895.57 L1293.3 895.06 L1294.3 894.58 L1295.3 894.13 L1296.3 893.72 L1297.3 893.33 L1298.3 892.97 L1299.3 892.63 L1300.3 892.31 L1301.3 892.02 L1302.3 891.74 L1303.3 891.48 L1304.3 891.24 L1305.3 891.02 L1306.3 890.81 L1307.3 890.62 L1308.3 890.43 L1309.3 890.26 L1310.3 890.1 L1311.3 889.96 L1311.7 889.9 L1311.7 921.3" stroke-width="5.4"/>
<path d="M1314.8 889.9 L1315 899.4 L1315.2 908.5 L1315.4 917.15 L1315.6 925.29 L1315.8 932.85 L1316 939.67 L1316.2 945.51 L1316.35 948.84 L1316.4 949.5 L1316.4 949.5 L1316.45 949.34 L1316.6 948.16 L1316.8 945.43 L1317 941.92 L1317.2 938.05 L1317.4 934.09 L1317.6 930.23 L1317.8 926.59 L1318 923.21 L1318.2 920.13 L1318.4 917.36 L1318.6 914.88 L1318.8 912.68 L1319 910.74 L1319.2 909.03 L1319.4 907.53 L1319.6 906.2 L1319.8 905.04 L1320 904.02 L1320.2 903.11 L1320.4 902.31 L1320.6 901.6 L1320.8 900.96 L1321 900.39 L1321.2 899.87 L1321.4 899.4 L1321.6 898.97 L1321.8 898.57 L1322 898.2 L1322.2 897.86 L1322.4 897.53 L1322.6 897.23 L1322.8 896.94 L1323 896.66 L1323.2 896.4 L1323.4 896.14 L1323.6 895.89 L1323.8 895.66 L1324 895.43 L1324.2 895.2 L1324.4 894.98 L1324.6 894.77 L1324.8 894.56 L1325 894.36 L1325.2 894.16 L1325.4 893.96 L1325.6 893.77 L1325.8 893.58 L1326 893.4 L1326.2 893.22 L1326.4 893.04 L1326.6 892.86 L1326.8 892.69 L1327 892.52 L1327.2 892.36 L1327.4 892.19 L1327.6 892.03 L1327.8 891.87 L1328 891.72 L1328.2 891.56 L1329.2 890.83 L1330.2 890.16 L1331.2 889.54 L1332.2 888.96 L1333.2 888.43 L1334.2 887.94 L1335.2 887.49 L1336.2 887.08 L1337.2 886.69 L1338.2 886.34 L1339.2 886.01 L1340.2 885.71 L1341.2 885.43 L1342.2 885.17 L1343.2 884.93 L1344.2 884.71 L1345.2 884.51 L1346.2 884.32 L1347.2 884.15 L1348.2 883.99 L1349.2 883.84 L1349.5 883.8 L1349.5 915.7" stroke-width="5.4"/>
<path d="M1352.6 883.8 L1352.8 891.29 L1353 898.55 L1353.2 905.55 L1353.4 912.28 L1353.6 918.71 L1353.8 924.79 L1354 930.48 L1354.2 935.7 L1354.4 940.31 L1354.6 944.03 L1354.65 944.72 L1354.7 945.2 L1354.75 944.97 L1354.8 944.52 L1355 941.16 L1355.2 936.38 L1355.4 931.1 L1355.6 925.89 L1355.8 921.05 L1356 916.7 L1356.2 912.9 L1356.4 909.63 L1356.6 906.85 L1356.8 904.5 L1357 902.52 L1357.2 900.86 L1357.4 899.46 L1357.6 898.28 L1357.8 897.27 L1358 896.41 L1358.2 895.67 L1358.4 895.02 L1358.6 894.45 L1358.8 893.93 L1359 893.47 L1359.2 893.04 L1359.4 892.65 L1359.6 892.28 L1359.8 891.94 L1360 891.61 L1360.2 891.3 L1360.4 890.99 L1360.6 890.7 L1360.8 890.42 L1361 890.15 L1361.2 889.89 L1361.4 889.63 L1361.6 889.37 L1361.8 889.13 L1362 888.89 L1362.2 888.65 L1362.4 888.42 L1362.6 888.19 L1362.8 887.97 L1363 887.75 L1363.2 887.54 L1363.4 887.33 L1363.6 887.12 L1363.8 886.92 L1364 886.72 L1364.2 886.52 L1364.4 886.33 L1364.6 886.14 L1364.8 885.96 L1365 885.78 L1365.2 885.6 L1365.4 885.43 L1365.6 885.25 L1365.8 885.09 L1366 884.92 L1366.2 884.76 L1366.4 884.6 L1366.6 884.44 L1367 884.14 L1368 883.43 L1369 882.78 L1370 882.19 L1371 881.65 L1372 881.15 L1373 880.7 L1374 880.29 L1375 879.92 L1376 879.58 L1377 879.27 L1378 878.98 L1379 878.73 L1380 878.49 L1381 878.28 L1382 878.08 L1383 877.9 L1384 877.74 L1385 877.59 L1385.65 877.5 L1385.65 910.2" stroke-width="5.4"/>
<path d="M1388.7 877.5 L1388.9 896.91 L1389.1 914.44 L1389.3 929.44 L1389.45 938.01 L1389.5 939.7 L1389.5 939.7 L1389.55 939.37 L1389.7 936.54 L1389.9 930.42 L1390.1 923.55 L1390.3 917.03 L1390.5 911.31 L1390.7 906.52 L1390.9 902.62 L1391.1 899.49 L1391.3 897.01 L1391.5 895.04 L1391.7 893.47 L1391.9 892.21 L1392.1 891.19 L1392.3 890.35 L1392.5 889.63 L1392.7 889.02 L1392.9 888.49 L1393.1 888.01 L1393.3 887.57 L1393.5 887.16 L1393.7 886.78 L1393.9 886.42 L1394.1 886.07 L1394.3 885.74 L1394.5 885.42 L1394.7 885.1 L1394.9 884.8 L1395.1 884.5 L1395.3 884.21 L1395.5 883.92 L1395.7 883.65 L1395.9 883.37 L1396.1 883.11 L1396.3 882.85 L1396.5 882.59 L1396.7 882.34 L1396.9 882.09 L1397.1 881.85 L1397.3 881.62 L1397.5 881.38 L1397.7 881.16 L1397.9 880.94 L1398.1 880.72 L1398.3 880.5 L1398.5 880.29 L1398.7 880.09 L1398.9 879.89 L1399.1 879.69 L1399.3 879.5 L1399.5 879.31 L1399.7 879.12 L1399.9 878.94 L1400.1 878.76 L1400.3 878.58 L1400.5 878.41 L1400.7 878.24 L1400.9 878.08 L1401.1 877.92 L1401.3 877.76 L1402.1 877.15 L1403.1 876.46 L1404.1 875.84 L1405.1 875.27 L1406.1 874.76 L1407.1 874.29 L1408.1 873.87 L1409.1 873.49 L1410.1 873.14 L1411.1 872.83 L1412.1 872.55 L1413.1 872.29 L1414.1 872.06 L1415.1 871.85 L1416.1 871.66 L1417.1 871.49 L1418.1 871.33 L1419.1 871.19 L1420.1 871.07 L1420.65 871 L1420.65 905.2" stroke-width="5.4"/>
<path d="M1423.7 871 L1423.9 890.63 L1424.1 908.35 L1424.3 923.53 L1424.45 932.19 L1424.5 933.9 L1424.5 933.9 L1424.55 933.25 L1424.7 927.39 L1424.9 916.64 L1425.1 906.92 L1425.3 899.49 L1425.5 894.22 L1425.7 890.6 L1425.9 888.13 L1426.1 886.42 L1426.3 885.19 L1426.5 884.27 L1426.7 883.53 L1426.9 882.92 L1427.1 882.37 L1427.3 881.87 L1427.5 881.41 L1427.7 880.96 L1427.9 880.54 L1428.1 880.12 L1428.3 879.72 L1428.5 879.33 L1428.7 878.95 L1428.9 878.58 L1429.1 878.22 L1429.3 877.86 L1429.5 877.52 L1429.7 877.18 L1429.9 876.85 L1430.1 876.53 L1430.3 876.21 L1430.5 875.91 L1430.7 875.61 L1430.9 875.32 L1431.1 875.03 L1431.3 874.75 L1431.5 874.48 L1431.7 874.21 L1431.9 873.95 L1432.1 873.7 L1432.3 873.45 L1432.5 873.21 L1432.7 872.97 L1432.9 872.74 L1433.1 872.51 L1433.3 872.29 L1433.5 872.08 L1433.7 871.87 L1433.9 871.66 L1434.1 871.46 L1434.3 871.27 L1434.5 871.08 L1434.7 870.89 L1434.9 870.71 L1435.1 870.53 L1435.3 870.36 L1435.5 870.19 L1435.7 870.02 L1435.9 869.86 L1436.1 869.7 L1436.3 869.55 L1437.1 868.97 L1438.1 868.31 L1439.1 867.73 L1440.1 867.21 L1441.1 866.76 L1442.1 866.35 L1443.1 865.99 L1444.1 865.66 L1445.1 865.38 L1446.1 865.13 L1447.1 864.9 L1448.1 864.7 L1449.1 864.52 L1450.1 864.36 L1451.1 864.22 L1452.1 864.1 L1453 864 L1453 899.5" stroke-width="5.4"/>
<path d="M1456.1 864 L1456.3 881.78 L1456.5 898.09 L1456.7 912.5 L1456.9 924.13 L1456.95 926.31 L1457 927.8 L1457.05 925.87 L1457.1 921.69 L1457.3 901.91 L1457.5 889.55 L1457.7 883.72 L1457.9 881.06 L1458.1 879.7 L1458.3 878.82 L1458.5 878.14 L1458.7 877.52 L1458.9 876.95 L1459.1 876.39 L1459.3 875.85 L1459.5 875.33 L1459.7 874.82 L1459.9 874.32 L1460.1 873.84 L1460.3 873.37 L1460.5 872.92 L1460.7 872.48 L1460.9 872.04 L1461.1 871.62 L1461.3 871.22 L1461.5 870.82 L1461.7 870.43 L1461.9 870.06 L1462.1 869.69 L1462.3 869.34 L1462.5 868.99 L1462.7 868.66 L1462.9 868.33 L1463.1 868.01 L1463.3 867.7 L1463.5 867.4 L1463.7 867.11 L1463.9 866.82 L1464.1 866.55 L1464.3 866.28 L1464.5 866.01 L1464.7 865.76 L1464.9 865.51 L1465.1 865.27 L1465.3 865.03 L1465.5 864.81 L1465.7 864.58 L1465.9 864.37 L1466.1 864.16 L1466.3 863.95 L1466.5 863.75 L1466.7 863.56 L1466.9 863.37 L1467.1 863.19 L1467.3 863.01 L1467.5 862.84 L1467.7 862.67 L1467.9 862.51 L1468.1 862.35 L1468.3 862.19 L1468.5 862.04 L1468.7 861.89 L1468.9 861.75 L1469.5 861.35 L1470.5 860.74 L1471.5 860.21 L1472.5 859.76 L1473.5 859.36 L1474.5 859.01 L1475.5 858.7 L1476.5 858.44 L1477.5 858.21 L1478.5 858.01 L1479.5 857.84 L1480.5 857.68 L1481.5 857.55 L1482.5 857.44 L1483.5 857.34 L1483.9 857.3 L1483.9 892.7" stroke-width="5.4"/>
<path d="M1486.7 857.3 L1486.9 877.18 L1487.1 895.13 L1487.3 910.49 L1487.45 919.27 L1487.5 921 L1487.5 921 L1487.55 918.91 L1487.7 903.62 L1487.9 886.86 L1488.1 878.65 L1488.3 875.06 L1488.5 873.36 L1488.7 872.37 L1488.9 871.62 L1489.1 870.97 L1489.3 870.36 L1489.5 869.77 L1489.7 869.2 L1489.9 868.65 L1490.1 868.11 L1490.3 867.59 L1490.5 867.09 L1490.7 866.59 L1490.9 866.11 L1491.1 865.65 L1491.3 865.19 L1491.5 864.75 L1491.7 864.32 L1491.9 863.91 L1492.1 863.5 L1492.3 863.11 L1492.5 862.73 L1492.7 862.35 L1492.9 861.99 L1493.1 861.64 L1493.3 861.3 L1493.5 860.96 L1493.7 860.64 L1493.9 860.32 L1494.1 860.02 L1494.3 859.72 L1494.5 859.43 L1494.7 859.15 L1494.9 858.88 L1495.1 858.61 L1495.3 858.35 L1495.5 858.1 L1495.7 857.85 L1495.9 857.62 L1496.1 857.39 L1496.3 857.16 L1496.5 856.94 L1496.7 856.73 L1496.9 856.52 L1497.1 856.32 L1497.3 856.13 L1497.5 855.94 L1497.7 855.75 L1497.9 855.57 L1498.1 855.4 L1498.3 855.23 L1498.5 855.06 L1498.7 854.9 L1498.9 854.75 L1499.1 854.59 L1499.3 854.45 L1500.1 853.9 L1501.1 853.29 L1502.1 852.76 L1503.1 852.3 L1504.1 851.9 L1505.1 851.56 L1506.1 851.26 L1507.1 850.99 L1508.1 850.77 L1509.1 850.57 L1510.1 850.4 L1511.1 850.25 L1512.1 850.12 L1513.1 850.01 L1513.15 850 L1513.15 886.5" stroke-width="5.4"/>
<path d="M1516.2 850 L1516.4 869.97 L1516.6 888.01 L1516.8 903.44 L1516.95 912.26 L1517 914 L1517 914 L1517.05 911.68 L1517.2 895.23 L1517.4 878.09 L1517.6 870.16 L1517.8 866.83 L1518 865.25 L1518.2 864.29 L1518.4 863.53 L1518.6 862.85 L1518.8 862.2 L1519 861.58 L1519.2 860.97 L1519.4 860.39 L1519.6 859.81 L1519.8 859.26 L1520 858.72 L1520.2 858.2 L1520.4 857.69 L1520.6 857.19 L1520.8 856.71 L1521 856.25 L1521.2 855.79 L1521.4 855.35 L1521.6 854.92 L1521.8 854.51 L1522 854.1 L1522.2 853.71 L1522.4 853.33 L1522.6 852.95 L1522.8 852.59 L1523 852.24 L1523.2 851.9 L1523.4 851.57 L1523.6 851.25 L1523.8 850.93 L1524 850.63 L1524.2 850.33 L1524.4 850.05 L1524.6 849.77 L1524.8 849.49 L1525 849.23 L1525.2 848.97 L1525.4 848.73 L1525.6 848.48 L1525.8 848.25 L1526 848.02 L1526.2 847.8 L1526.4 847.58 L1526.6 847.37 L1526.8 847.17 L1527 846.97 L1527.2 846.78 L1527.4 846.59 L1527.6 846.41 L1527.8 846.23 L1528 846.06 L1528.2 845.89 L1528.4 845.73 L1528.6 845.57 L1528.8 845.42 L1529.6 844.85 L1530.6 844.22 L1531.6 843.67 L1532.6 843.2 L1533.6 842.79 L1534.6 842.44 L1535.6 842.13 L1536.6 841.86 L1537.6 841.63 L1538.6 841.43 L1539.6 841.26 L1540.6 841.11 L1541.4 841 L1541.4 878" stroke-width="5.4"/>
<path d="M1543.7 841 L1543.9 861.66 L1544.1 880.31 L1544.3 896.28 L1544.45 905.4 L1544.5 907.2 L1544.5 907.2 L1544.55 904.86 L1544.7 888.26 L1544.9 871.06 L1545.1 863.13 L1545.3 859.81 L1545.5 858.23 L1545.7 857.26 L1545.9 856.5 L1546.1 855.81 L1546.3 855.15 L1546.5 854.52 L1546.7 853.9 L1546.9 853.3 L1547.1 852.72 L1547.3 852.15 L1547.5 851.6 L1547.7 851.07 L1547.9 850.55 L1548.1 850.04 L1548.3 849.55 L1548.5 849.07 L1548.7 848.61 L1548.9 848.15 L1549.1 847.71 L1549.3 847.28 L1549.5 846.87 L1549.7 846.46 L1549.9 846.07 L1550.1 845.68 L1550.3 845.31 L1550.5 844.95 L1550.7 844.6 L1550.9 844.25 L1551.1 843.92 L1551.3 843.6 L1551.5 843.28 L1551.7 842.97 L1551.9 842.67 L1552.1 842.38 L1552.3 842.1 L1552.5 841.83 L1552.7 841.56 L1552.9 841.3 L1553.1 841.05 L1553.3 840.8 L1553.5 840.56 L1553.7 840.33 L1553.9 840.11 L1554.1 839.89 L1554.3 839.67 L1554.5 839.46 L1554.7 839.26 L1554.9 839.06 L1555.1 838.87 L1555.3 838.69 L1555.5 838.51 L1555.7 838.33 L1555.9 838.16 L1556.1 837.99 L1556.3 837.83 L1557.1 837.23 L1558.1 836.56 L1559.1 835.98 L1560.1 835.48 L1561.1 835.04 L1562.1 834.65 L1563.1 834.32 L1564.1 834.03 L1565.1 833.78 L1566.1 833.56 L1567.1 833.37 L1568.1 833.2 L1568.8 833.1 L1568.8 871" stroke-width="5.4"/>
<path d="M1570.5 833.1 L1570.7 854.04 L1570.9 872.95 L1571.1 889.13 L1571.25 898.37 L1571.3 900.2 L1571.3 900.2 L1571.35 897.49 L1571.5 879.05 L1571.7 861.2 L1571.9 853.58 L1572.1 850.52 L1572.3 849.05 L1572.5 848.08 L1572.7 847.27 L1572.9 846.52 L1573.1 845.8 L1573.3 845.11 L1573.5 844.43 L1573.7 843.77 L1573.9 843.14 L1574.1 842.52 L1574.3 841.92 L1574.5 841.33 L1574.7 840.76 L1574.9 840.21 L1575.1 839.68 L1575.3 839.16 L1575.5 838.65 L1575.7 838.16 L1575.9 837.68 L1576.1 837.22 L1576.3 836.77 L1576.5 836.33 L1576.7 835.9 L1576.9 835.49 L1577.1 835.09 L1577.3 834.69 L1577.5 834.31 L1577.7 833.95 L1577.9 833.59 L1578.1 833.24 L1578.3 832.9 L1578.5 832.57 L1578.7 832.25 L1578.9 831.94 L1579.1 831.64 L1579.3 831.35 L1579.5 831.06 L1579.7 830.79 L1579.9 830.52 L1580.1 830.26 L1580.3 830 L1580.5 829.76 L1580.7 829.52 L1580.9 829.28 L1581.1 829.06 L1581.3 828.84 L1581.5 828.62 L1581.7 828.42 L1581.9 828.21 L1582.1 828.02 L1582.3 827.83 L1582.5 827.64 L1582.7 827.46 L1582.9 827.29 L1583.1 827.12 L1583.9 826.49 L1584.9 825.79 L1585.9 825.19 L1586.9 824.67 L1587.9 824.22 L1588.9 823.83 L1589.9 823.49 L1590.9 823.2 L1591.9 822.94 L1592.9 822.73 L1593.9 822.53 L1594.1 822.5 L1594.1 864" stroke-width="5.4"/>
<path d="M1596.5 822.5 L1596.7 844.43 L1596.9 864.25 L1597.1 881.2 L1597.25 890.89 L1597.3 892.8 L1597.3 892.8 L1597.35 889.66 L1597.5 869.18 L1597.7 850.86 L1597.9 843.65 L1598.1 840.87 L1598.3 839.48 L1598.5 838.49 L1598.7 837.62 L1598.9 836.8 L1599.1 836.02 L1599.3 835.25 L1599.5 834.51 L1599.7 833.79 L1599.9 833.09 L1600.1 832.42 L1600.3 831.76 L1600.5 831.12 L1600.7 830.5 L1600.9 829.9 L1601.1 829.32 L1601.3 828.75 L1601.5 828.2 L1601.7 827.67 L1601.9 827.15 L1602.1 826.65 L1602.3 826.16 L1602.5 825.69 L1602.7 825.23 L1602.9 824.78 L1603.1 824.35 L1603.3 823.93 L1603.5 823.52 L1603.7 823.13 L1603.9 822.74 L1604.1 822.37 L1604.3 822.01 L1604.5 821.66 L1604.7 821.32 L1604.9 820.99 L1605.1 820.66 L1605.3 820.35 L1605.5 820.05 L1605.7 819.76 L1605.9 819.47 L1606.1 819.2 L1606.3 818.93 L1606.5 818.67 L1606.7 818.42 L1606.9 818.17 L1607.1 817.93 L1607.3 817.7 L1607.5 817.48 L1607.7 817.26 L1607.9 817.05 L1608.1 816.84 L1608.3 816.65 L1608.5 816.45 L1608.7 816.27 L1608.9 816.08 L1609.1 815.91 L1609.9 815.25 L1610.9 814.54 L1611.9 813.92 L1612.9 813.39 L1613.9 812.93 L1614.9 812.54 L1615.9 812.2 L1616.9 811.91 L1617.9 811.65 L1618.6 811.5 L1618.6 854.7" stroke-width="5.4"/>
<path d="M1620.7 811.5 L1620.9 833.59 L1621.1 853.55 L1621.3 870.62 L1621.45 880.37 L1621.5 882.3 L1621.5 882.3 L1621.55 879.05 L1621.7 857.75 L1621.9 838.98 L1622.1 831.81 L1622.3 829.19 L1622.5 827.96 L1622.7 827.13 L1622.9 826.4 L1623.1 825.71 L1623.3 825.04 L1623.5 824.39 L1623.7 823.75 L1623.9 823.12 L1624.1 822.51 L1624.3 821.91 L1624.5 821.33 L1624.7 820.76 L1624.9 820.2 L1625.1 819.65 L1625.3 819.11 L1625.5 818.59 L1625.7 818.07 L1625.9 817.57 L1626.1 817.08 L1626.3 816.6 L1626.5 816.13 L1626.7 815.67 L1626.9 815.22 L1627.1 814.78 L1627.3 814.35 L1627.5 813.93 L1627.7 813.51 L1627.9 813.11 L1628.1 812.71 L1628.3 812.33 L1628.5 811.95 L1628.7 811.58 L1628.9 811.22 L1629.1 810.86 L1629.3 810.52 L1629.5 810.18 L1629.7 809.85 L1629.9 809.52 L1630.1 809.21 L1630.3 808.89 L1630.5 808.59 L1630.7 808.29 L1630.9 808 L1631.1 807.72 L1631.3 807.44 L1631.5 807.17 L1631.7 806.9 L1631.9 806.64 L1632.1 806.38 L1632.3 806.13 L1632.5 805.89 L1632.7 805.65 L1632.9 805.42 L1633.1 805.19 L1633.3 804.97 L1634.1 804.12 L1635.1 803.16 L1636.1 802.29 L1637.1 801.52 L1638.1 800.83 L1639.1 800.21 L1640.1 799.65 L1641.1 799.15 L1642.1 798.71 L1642.6 798.5 L1642.6 845.3" stroke-width="5.4"/>
<path d="M1644.7 798.5 L1644.9 821.21 L1645.1 841.73 L1645.3 859.29 L1645.45 869.32 L1645.5 871.3 L1645.5 871.3 L1645.55 867.35 L1645.7 842.93 L1645.9 823.42 L1646.1 816.71 L1646.3 814.36 L1646.5 813.17 L1646.7 812.28 L1646.9 811.48 L1647.1 810.7 L1647.3 809.94 L1647.5 809.2 L1647.7 808.48 L1647.9 807.78 L1648.1 807.09 L1648.3 806.42 L1648.5 805.76 L1648.7 805.12 L1648.9 804.49 L1649.1 803.88 L1649.3 803.28 L1649.5 802.7 L1649.7 802.12 L1649.9 801.57 L1650.1 801.02 L1650.3 800.49 L1650.5 799.97 L1650.7 799.46 L1650.9 798.96 L1651.1 798.48 L1651.3 798.01 L1651.5 797.54 L1651.7 797.09 L1651.9 796.65 L1652.1 796.22 L1652.3 795.8 L1652.5 795.38 L1652.7 794.98 L1652.9 794.59 L1653.1 794.2 L1653.3 793.83 L1653.5 793.46 L1653.7 793.1 L1653.9 792.75 L1654.1 792.41 L1654.3 792.08 L1654.5 791.75 L1654.7 791.43 L1654.9 791.12 L1655.1 790.82 L1655.3 790.52 L1655.5 790.23 L1655.7 789.95 L1655.9 789.67 L1656.1 789.4 L1656.3 789.14 L1656.5 788.88 L1656.7 788.63 L1656.9 788.38 L1657.1 788.14 L1657.3 787.9 L1658.1 787.02 L1659.1 786.02 L1660.1 785.13 L1661.1 784.34 L1662.1 783.63 L1663.1 783.01 L1664.1 782.45 L1665 782 L1665 833.7" stroke-width="5.4"/>
<path d="M1667.2 782 L1667.4 805.4 L1667.6 826.54 L1667.8 844.63 L1667.95 854.96 L1668 857 L1668 857 L1668.05 852.65 L1668.2 825.94 L1668.4 804.89 L1668.6 797.75 L1668.8 795.25 L1669 793.99 L1669.2 793.02 L1669.4 792.14 L1669.6 791.29 L1669.8 790.47 L1670 789.66 L1670.2 788.87 L1670.4 788.1 L1670.6 787.35 L1670.8 786.61 L1671 785.9 L1671.2 785.19 L1671.4 784.51 L1671.6 783.84 L1671.8 783.18 L1672 782.55 L1672.2 781.92 L1672.4 781.31 L1672.6 780.72 L1672.8 780.13 L1673 779.56 L1673.2 779.01 L1673.4 778.47 L1673.6 777.94 L1673.8 777.42 L1674 776.91 L1674.2 776.42 L1674.4 775.93 L1674.6 775.46 L1674.8 775 L1675 774.55 L1675.2 774.11 L1675.4 773.68 L1675.6 773.26 L1675.8 772.85 L1676 772.45 L1676.2 772.06 L1676.4 771.67 L1676.6 771.3 L1676.8 770.93 L1677 770.58 L1677.2 770.23 L1677.4 769.89 L1677.6 769.56 L1677.8 769.23 L1678 768.91 L1678.2 768.6 L1678.4 768.3 L1678.6 768 L1678.8 767.71 L1679 767.43 L1679.2 767.16 L1679.4 766.89 L1679.6 766.62 L1679.8 766.36 L1680.6 765.39 L1681.6 764.3 L1682.6 763.32 L1683.6 762.46 L1684.6 761.69 L1685.6 761 L1686.6 760.39 L1687.3 760 L1687.3 820.7" stroke-width="5.4"/>
<path d="M1689 760 L1689.2 784.34 L1689.4 806.32 L1689.6 825.13 L1689.75 835.88 L1689.8 838 L1689.8 838 L1689.85 832.84 L1690 801.7 L1690.2 777.81 L1690.4 769.93 L1690.6 767.2 L1690.8 765.78 L1691 764.67 L1691.2 763.65 L1691.4 762.66 L1691.6 761.7 L1691.8 760.76 L1692 759.84 L1692.2 758.94 L1692.4 758.07 L1692.6 757.21 L1692.8 756.38 L1693 755.56 L1693.2 754.77 L1693.4 753.99 L1693.6 753.23 L1693.8 752.49 L1694 751.76 L1694.2 751.05 L1694.4 750.36 L1694.6 749.69 L1694.8 749.03 L1695 748.38 L1695.2 747.75 L1695.4 747.14 L1695.6 746.54 L1695.8 745.95 L1696 745.38 L1696.2 744.82 L1696.4 744.27 L1696.6 743.74 L1696.8 743.21 L1697 742.7 L1697.2 742.21 L1697.4 741.72 L1697.6 741.25 L1697.8 740.78 L1698 740.33 L1698.2 739.89 L1698.4 739.45 L1698.6 739.03 L1698.8 738.62 L1699 738.22 L1699.2 737.82 L1699.4 737.44 L1699.6 737.06 L1699.8 736.7 L1700 736.34 L1700.2 735.99 L1700.4 735.65 L1700.6 735.31 L1700.8 734.99 L1701 734.67 L1701.2 734.36 L1701.4 734.05 L1701.6 733.76 L1702.4 732.64 L1703.4 731.38 L1704.4 730.26 L1705.4 729.26 L1706.4 728.38 L1707.4 727.59 L1708.4 726.89 L1708.7 726.7 L1708.7 805" stroke-width="5.4"/>
<path d="M1711.2 807.5 L1712.4 790 L1713.3 770 L1714.3 745 L1715.4 732 L1716.8 721 L1718.3 712 L1719.6 706.5 L1721.2 704 L1722.6 704.6 L1723.7 708 L1724.9 716 L1726 740 L1726.9 770 L1727.8 794 L1728.8 830 L1729.6 900 L1729.8 1051.5" stroke-width="5.4"/>
<path d="M320.7 1011.5 L321.3 947.5 L323.3 994.55 M410.2 1003.5 L410.8 921.7 L413.3 985.16 M501.7 997 L502.3 902.7 L504.8 976.89 M590.9 989.5 L591.5 887.7 L594 969.44 M675.7 984 L676.3 873.7 L678.8 962.26 M755.2 977.7 L755.8 861.7 L758.3 955.83 M829.9 972 L830.5 850.2 L833 947.36 M899.4 966.4 L900 839.2 L902.5 942 M963.9 960.2 L964.5 828.9 L967 937.01 M1024.8 954.7 L1025.4 818.5 L1027.9 932.61 M1080.6 950 L1081.2 808.5 L1083.7 924.05 M1132.8 944.8 L1133.4 798.5 L1135.9 918.21 M1181.8 939 L1182.4 789.5 L1184.9 913.94 M1228.2 932.8 L1228.8 779.4 L1231.3 912.24 M1270.8 927 L1271.4 769.3 L1273.9 905.2 M1311.7 921.3 L1312.3 758.7 L1314.8 889.9 M1349.5 915.7 L1350.1 748.7 L1352.6 883.8 M1385.65 910.2 L1386.25 737.2 L1388.7 877.5 M1420.65 905.2 L1421.25 725.9 L1423.7 871 M1453 899.5 L1453.6 714.5 L1456.1 864 M1483.9 892.7 L1484.5 702.9 L1486.7 857.3 M1513.15 886.5 L1513.75 690.4 L1516.2 850 M1541.4 878 L1542 676.2 L1543.7 841 M1568.8 871 L1569.4 661.6 L1570.5 833.1 M1594.1 864 L1594.7 642.9 L1596.5 822.5 M1618.6 854.7 L1619.2 621.7 L1620.7 811.5 M1642.6 845.3 L1643.2 598.2 L1644.7 798.5 M1665 833.7 L1665.6 566.8 L1667.2 782 M1687.3 820.7 L1687.9 523.7 L1689 760 M1708.7 805 L1709.3 454.7 L1711.2 807.5" stroke-width="4.0"/>
<g fill="#000" stroke="none"><circle cx="322.32" cy="952.73" r="1.9"/><circle cx="320.94" cy="957.96" r="1.9"/><circle cx="322.77" cy="963.18" r="1.9"/><circle cx="321.39" cy="968.41" r="1.9"/><circle cx="323.21" cy="973.64" r="1.9"/><circle cx="321.83" cy="978.87" r="1.9"/><circle cx="323.66" cy="984.09" r="1.9"/><circle cx="322.28" cy="989.32" r="1.9"/><circle cx="411.81" cy="926.99" r="1.9"/><circle cx="410.42" cy="932.28" r="1.9"/><circle cx="412.23" cy="937.57" r="1.9"/><circle cx="410.83" cy="942.85" r="1.9"/><circle cx="412.64" cy="948.14" r="1.9"/><circle cx="411.25" cy="953.43" r="1.9"/><circle cx="413.06" cy="958.72" r="1.9"/><circle cx="411.67" cy="964.01" r="1.9"/><circle cx="413.48" cy="969.3" r="1.9"/><circle cx="412.08" cy="974.59" r="1.9"/><circle cx="413.89" cy="979.87" r="1.9"/><circle cx="503.28" cy="908" r="1.9"/><circle cx="501.86" cy="913.3" r="1.9"/><circle cx="503.64" cy="918.6" r="1.9"/><circle cx="502.21" cy="923.9" r="1.9"/><circle cx="503.99" cy="929.2" r="1.9"/><circle cx="502.57" cy="934.5" r="1.9"/><circle cx="504.35" cy="939.8" r="1.9"/><circle cx="502.93" cy="945.09" r="1.9"/><circle cx="504.71" cy="950.39" r="1.9"/><circle cx="503.29" cy="955.69" r="1.9"/><circle cx="505.06" cy="960.99" r="1.9"/><circle cx="503.64" cy="966.29" r="1.9"/><circle cx="505.42" cy="971.59" r="1.9"/><circle cx="592.46" cy="892.81" r="1.9"/><circle cx="591.01" cy="897.92" r="1.9"/><circle cx="592.77" cy="903.03" r="1.9"/><circle cx="591.33" cy="908.13" r="1.9"/><circle cx="593.08" cy="913.24" r="1.9"/><circle cx="591.64" cy="918.35" r="1.9"/><circle cx="593.39" cy="923.46" r="1.9"/><circle cx="591.95" cy="928.57" r="1.9"/><circle cx="593.71" cy="933.68" r="1.9"/><circle cx="592.26" cy="938.79" r="1.9"/><circle cx="594.02" cy="943.9" r="1.9"/><circle cx="592.58" cy="949" r="1.9"/><circle cx="594.33" cy="954.11" r="1.9"/><circle cx="592.89" cy="959.22" r="1.9"/><circle cx="594.64" cy="964.33" r="1.9"/><circle cx="677.25" cy="878.91" r="1.9"/><circle cx="675.79" cy="884.12" r="1.9"/><circle cx="677.54" cy="889.33" r="1.9"/><circle cx="676.09" cy="894.54" r="1.9"/><circle cx="677.84" cy="899.75" r="1.9"/><circle cx="676.38" cy="904.96" r="1.9"/><circle cx="678.13" cy="910.17" r="1.9"/><circle cx="676.68" cy="915.38" r="1.9"/><circle cx="678.42" cy="920.59" r="1.9"/><circle cx="676.97" cy="925.8" r="1.9"/><circle cx="678.72" cy="931.01" r="1.9"/><circle cx="677.26" cy="936.22" r="1.9"/><circle cx="679.01" cy="941.42" r="1.9"/><circle cx="677.56" cy="946.63" r="1.9"/><circle cx="679.31" cy="951.84" r="1.9"/><circle cx="677.85" cy="957.05" r="1.9"/><circle cx="756.74" cy="866.93" r="1.9"/><circle cx="755.28" cy="872.16" r="1.9"/><circle cx="757.02" cy="877.39" r="1.9"/><circle cx="755.56" cy="882.62" r="1.9"/><circle cx="757.29" cy="887.85" r="1.9"/><circle cx="755.83" cy="893.08" r="1.9"/><circle cx="757.57" cy="898.31" r="1.9"/><circle cx="756.11" cy="903.53" r="1.9"/><circle cx="757.85" cy="908.76" r="1.9"/><circle cx="756.39" cy="913.99" r="1.9"/><circle cx="758.13" cy="919.22" r="1.9"/><circle cx="756.67" cy="924.45" r="1.9"/><circle cx="758.41" cy="929.68" r="1.9"/><circle cx="756.94" cy="934.91" r="1.9"/><circle cx="758.68" cy="940.14" r="1.9"/><circle cx="757.22" cy="945.37" r="1.9"/><circle cx="758.96" cy="950.6" r="1.9"/><circle cx="831.43" cy="855.31" r="1.9"/><circle cx="829.96" cy="860.43" r="1.9"/><circle cx="831.69" cy="865.54" r="1.9"/><circle cx="830.23" cy="870.65" r="1.9"/><circle cx="831.96" cy="875.77" r="1.9"/><circle cx="830.49" cy="880.88" r="1.9"/><circle cx="832.22" cy="886" r="1.9"/><circle cx="830.75" cy="891.11" r="1.9"/><circle cx="832.48" cy="896.22" r="1.9"/><circle cx="831.02" cy="901.34" r="1.9"/><circle cx="832.75" cy="906.45" r="1.9"/><circle cx="831.28" cy="911.56" r="1.9"/><circle cx="833.01" cy="916.68" r="1.9"/><circle cx="831.54" cy="921.79" r="1.9"/><circle cx="833.27" cy="926.9" r="1.9"/><circle cx="831.81" cy="932.02" r="1.9"/><circle cx="833.54" cy="937.13" r="1.9"/><circle cx="832.07" cy="942.25" r="1.9"/><circle cx="900.92" cy="844.34" r="1.9"/><circle cx="899.45" cy="849.48" r="1.9"/><circle cx="901.17" cy="854.62" r="1.9"/><circle cx="899.7" cy="859.76" r="1.9"/><circle cx="901.42" cy="864.9" r="1.9"/><circle cx="899.95" cy="870.04" r="1.9"/><circle cx="901.67" cy="875.18" r="1.9"/><circle cx="900.2" cy="880.32" r="1.9"/><circle cx="901.92" cy="885.46" r="1.9"/><circle cx="900.45" cy="890.6" r="1.9"/><circle cx="902.17" cy="895.74" r="1.9"/><circle cx="900.7" cy="900.88" r="1.9"/><circle cx="902.42" cy="906.02" r="1.9"/><circle cx="900.95" cy="911.16" r="1.9"/><circle cx="902.67" cy="916.3" r="1.9"/><circle cx="901.2" cy="921.44" r="1.9"/><circle cx="902.92" cy="926.58" r="1.9"/><circle cx="901.45" cy="931.72" r="1.9"/><circle cx="903.17" cy="936.86" r="1.9"/><circle cx="965.42" cy="834.05" r="1.9"/><circle cx="963.94" cy="839.2" r="1.9"/><circle cx="965.66" cy="844.34" r="1.9"/><circle cx="964.18" cy="849.49" r="1.9"/><circle cx="965.9" cy="854.64" r="1.9"/><circle cx="964.41" cy="859.79" r="1.9"/><circle cx="966.13" cy="864.94" r="1.9"/><circle cx="964.65" cy="870.09" r="1.9"/><circle cx="966.37" cy="875.23" r="1.9"/><circle cx="964.89" cy="880.38" r="1.9"/><circle cx="966.61" cy="885.53" r="1.9"/><circle cx="965.13" cy="890.68" r="1.9"/><circle cx="966.85" cy="895.83" r="1.9"/><circle cx="965.37" cy="900.98" r="1.9"/><circle cx="967.09" cy="906.12" r="1.9"/><circle cx="965.6" cy="911.27" r="1.9"/><circle cx="967.32" cy="916.42" r="1.9"/><circle cx="965.84" cy="921.57" r="1.9"/><circle cx="967.56" cy="926.72" r="1.9"/><circle cx="966.08" cy="931.86" r="1.9"/><circle cx="1026.31" cy="823.69" r="1.9"/><circle cx="1024.83" cy="828.87" r="1.9"/><circle cx="1026.54" cy="834.06" r="1.9"/><circle cx="1025.05" cy="839.25" r="1.9"/><circle cx="1026.77" cy="844.43" r="1.9"/><circle cx="1025.28" cy="849.62" r="1.9"/><circle cx="1027" cy="854.81" r="1.9"/><circle cx="1025.51" cy="859.99" r="1.9"/><circle cx="1027.22" cy="865.18" r="1.9"/><circle cx="1025.74" cy="870.37" r="1.9"/><circle cx="1027.45" cy="875.55" r="1.9"/><circle cx="1025.96" cy="880.74" r="1.9"/><circle cx="1027.68" cy="885.93" r="1.9"/><circle cx="1026.19" cy="891.12" r="1.9"/><circle cx="1027.9" cy="896.3" r="1.9"/><circle cx="1026.42" cy="901.49" r="1.9"/><circle cx="1028.13" cy="906.68" r="1.9"/><circle cx="1026.65" cy="911.86" r="1.9"/><circle cx="1028.36" cy="917.05" r="1.9"/><circle cx="1026.87" cy="922.24" r="1.9"/><circle cx="1028.59" cy="927.42" r="1.9"/><circle cx="1082.11" cy="813.52" r="1.9"/><circle cx="1080.62" cy="818.55" r="1.9"/><circle cx="1082.33" cy="823.57" r="1.9"/><circle cx="1080.83" cy="828.6" r="1.9"/><circle cx="1082.54" cy="833.62" r="1.9"/><circle cx="1081.05" cy="838.64" r="1.9"/><circle cx="1082.76" cy="843.67" r="1.9"/><circle cx="1081.27" cy="848.69" r="1.9"/><circle cx="1082.98" cy="853.71" r="1.9"/><circle cx="1081.49" cy="858.74" r="1.9"/><circle cx="1083.2" cy="863.76" r="1.9"/><circle cx="1081.7" cy="868.79" r="1.9"/><circle cx="1083.41" cy="873.81" r="1.9"/><circle cx="1081.92" cy="878.83" r="1.9"/><circle cx="1083.63" cy="883.86" r="1.9"/><circle cx="1082.14" cy="888.88" r="1.9"/><circle cx="1083.85" cy="893.91" r="1.9"/><circle cx="1082.36" cy="898.93" r="1.9"/><circle cx="1084.07" cy="903.95" r="1.9"/><circle cx="1082.57" cy="908.98" r="1.9"/><circle cx="1084.28" cy="914" r="1.9"/><circle cx="1082.79" cy="919.02" r="1.9"/><circle cx="1134.31" cy="803.7" r="1.9"/><circle cx="1132.82" cy="808.91" r="1.9"/><circle cx="1134.53" cy="814.11" r="1.9"/><circle cx="1133.03" cy="819.32" r="1.9"/><circle cx="1134.74" cy="824.52" r="1.9"/><circle cx="1133.25" cy="829.73" r="1.9"/><circle cx="1134.96" cy="834.93" r="1.9"/><circle cx="1133.47" cy="840.14" r="1.9"/><circle cx="1135.18" cy="845.34" r="1.9"/><circle cx="1133.69" cy="850.55" r="1.9"/><circle cx="1135.4" cy="855.75" r="1.9"/><circle cx="1133.9" cy="860.96" r="1.9"/><circle cx="1135.61" cy="866.16" r="1.9"/><circle cx="1134.12" cy="871.37" r="1.9"/><circle cx="1135.83" cy="876.57" r="1.9"/><circle cx="1134.34" cy="881.78" r="1.9"/><circle cx="1136.05" cy="886.98" r="1.9"/><circle cx="1134.56" cy="892.18" r="1.9"/><circle cx="1136.27" cy="897.39" r="1.9"/><circle cx="1134.77" cy="902.59" r="1.9"/><circle cx="1136.48" cy="907.8" r="1.9"/><circle cx="1134.99" cy="913" r="1.9"/><circle cx="1183.3" cy="794.69" r="1.9"/><circle cx="1181.81" cy="799.87" r="1.9"/><circle cx="1183.51" cy="805.06" r="1.9"/><circle cx="1182.02" cy="810.24" r="1.9"/><circle cx="1183.72" cy="815.43" r="1.9"/><circle cx="1182.23" cy="820.61" r="1.9"/><circle cx="1183.93" cy="825.8" r="1.9"/><circle cx="1182.43" cy="830.98" r="1.9"/><circle cx="1184.14" cy="836.17" r="1.9"/><circle cx="1182.64" cy="841.35" r="1.9"/><circle cx="1184.35" cy="846.54" r="1.9"/><circle cx="1182.85" cy="851.72" r="1.9"/><circle cx="1184.55" cy="856.91" r="1.9"/><circle cx="1183.06" cy="862.09" r="1.9"/><circle cx="1184.76" cy="867.28" r="1.9"/><circle cx="1183.27" cy="872.46" r="1.9"/><circle cx="1184.97" cy="877.65" r="1.9"/><circle cx="1183.48" cy="882.83" r="1.9"/><circle cx="1185.18" cy="888.02" r="1.9"/><circle cx="1183.68" cy="893.2" r="1.9"/><circle cx="1185.39" cy="898.39" r="1.9"/><circle cx="1183.89" cy="903.57" r="1.9"/><circle cx="1185.6" cy="908.76" r="1.9"/><circle cx="1229.7" cy="784.51" r="1.9"/><circle cx="1228.19" cy="789.62" r="1.9"/><circle cx="1229.89" cy="794.73" r="1.9"/><circle cx="1228.38" cy="799.84" r="1.9"/><circle cx="1230.08" cy="804.95" r="1.9"/><circle cx="1228.58" cy="810.05" r="1.9"/><circle cx="1230.27" cy="815.16" r="1.9"/><circle cx="1228.77" cy="820.27" r="1.9"/><circle cx="1230.47" cy="825.38" r="1.9"/><circle cx="1228.96" cy="830.49" r="1.9"/><circle cx="1230.66" cy="835.6" r="1.9"/><circle cx="1229.15" cy="840.71" r="1.9"/><circle cx="1230.85" cy="845.82" r="1.9"/><circle cx="1229.35" cy="850.93" r="1.9"/><circle cx="1231.04" cy="856.04" r="1.9"/><circle cx="1229.54" cy="861.15" r="1.9"/><circle cx="1231.23" cy="866.25" r="1.9"/><circle cx="1229.73" cy="871.36" r="1.9"/><circle cx="1231.43" cy="876.47" r="1.9"/><circle cx="1229.92" cy="881.58" r="1.9"/><circle cx="1231.62" cy="886.69" r="1.9"/><circle cx="1230.12" cy="891.8" r="1.9"/><circle cx="1231.81" cy="896.91" r="1.9"/><circle cx="1230.31" cy="902.02" r="1.9"/><circle cx="1232" cy="907.13" r="1.9"/><circle cx="1272.29" cy="774.33" r="1.9"/><circle cx="1270.79" cy="779.37" r="1.9"/><circle cx="1272.48" cy="784.4" r="1.9"/><circle cx="1270.97" cy="789.43" r="1.9"/><circle cx="1272.66" cy="794.47" r="1.9"/><circle cx="1271.16" cy="799.5" r="1.9"/><circle cx="1272.85" cy="804.53" r="1.9"/><circle cx="1271.34" cy="809.57" r="1.9"/><circle cx="1273.03" cy="814.6" r="1.9"/><circle cx="1271.53" cy="819.63" r="1.9"/><circle cx="1273.22" cy="824.67" r="1.9"/><circle cx="1271.71" cy="829.7" r="1.9"/><circle cx="1273.4" cy="834.73" r="1.9"/><circle cx="1271.9" cy="839.77" r="1.9"/><circle cx="1273.59" cy="844.8" r="1.9"/><circle cx="1272.08" cy="849.83" r="1.9"/><circle cx="1273.77" cy="854.87" r="1.9"/><circle cx="1272.27" cy="859.9" r="1.9"/><circle cx="1273.96" cy="864.94" r="1.9"/><circle cx="1272.45" cy="869.97" r="1.9"/><circle cx="1274.14" cy="875" r="1.9"/><circle cx="1272.64" cy="880.04" r="1.9"/><circle cx="1274.33" cy="885.07" r="1.9"/><circle cx="1272.82" cy="890.1" r="1.9"/><circle cx="1274.51" cy="895.14" r="1.9"/><circle cx="1273.01" cy="900.17" r="1.9"/><circle cx="1313.2" cy="763.75" r="1.9"/><circle cx="1311.69" cy="768.79" r="1.9"/><circle cx="1313.39" cy="773.84" r="1.9"/><circle cx="1311.88" cy="778.88" r="1.9"/><circle cx="1313.58" cy="783.93" r="1.9"/><circle cx="1312.08" cy="788.98" r="1.9"/><circle cx="1313.77" cy="794.02" r="1.9"/><circle cx="1312.27" cy="799.07" r="1.9"/><circle cx="1313.97" cy="804.12" r="1.9"/><circle cx="1312.46" cy="809.16" r="1.9"/><circle cx="1314.16" cy="814.21" r="1.9"/><circle cx="1312.65" cy="819.25" r="1.9"/><circle cx="1314.35" cy="824.3" r="1.9"/><circle cx="1312.85" cy="829.35" r="1.9"/><circle cx="1314.54" cy="834.39" r="1.9"/><circle cx="1313.04" cy="839.44" r="1.9"/><circle cx="1314.73" cy="844.48" r="1.9"/><circle cx="1313.23" cy="849.53" r="1.9"/><circle cx="1314.93" cy="854.58" r="1.9"/><circle cx="1313.42" cy="859.62" r="1.9"/><circle cx="1315.12" cy="864.67" r="1.9"/><circle cx="1313.62" cy="869.72" r="1.9"/><circle cx="1315.31" cy="874.76" r="1.9"/><circle cx="1313.81" cy="879.81" r="1.9"/><circle cx="1315.5" cy="884.85" r="1.9"/><circle cx="1350.99" cy="753.7" r="1.9"/><circle cx="1349.49" cy="758.71" r="1.9"/><circle cx="1351.18" cy="763.71" r="1.9"/><circle cx="1349.67" cy="768.71" r="1.9"/><circle cx="1351.36" cy="773.72" r="1.9"/><circle cx="1349.86" cy="778.72" r="1.9"/><circle cx="1351.55" cy="783.73" r="1.9"/><circle cx="1350.04" cy="788.73" r="1.9"/><circle cx="1351.73" cy="793.73" r="1.9"/><circle cx="1350.23" cy="798.74" r="1.9"/><circle cx="1351.92" cy="803.74" r="1.9"/><circle cx="1350.41" cy="808.74" r="1.9"/><circle cx="1352.1" cy="813.75" r="1.9"/><circle cx="1350.6" cy="818.75" r="1.9"/><circle cx="1352.29" cy="823.76" r="1.9"/><circle cx="1350.78" cy="828.76" r="1.9"/><circle cx="1352.47" cy="833.76" r="1.9"/><circle cx="1350.97" cy="838.77" r="1.9"/><circle cx="1352.66" cy="843.77" r="1.9"/><circle cx="1351.15" cy="848.77" r="1.9"/><circle cx="1352.84" cy="853.78" r="1.9"/><circle cx="1351.34" cy="858.78" r="1.9"/><circle cx="1353.03" cy="863.79" r="1.9"/><circle cx="1351.52" cy="868.79" r="1.9"/><circle cx="1353.21" cy="873.79" r="1.9"/><circle cx="1351.71" cy="878.8" r="1.9"/><circle cx="1387.14" cy="742.21" r="1.9"/><circle cx="1385.62" cy="747.22" r="1.9"/><circle cx="1387.31" cy="752.23" r="1.9"/><circle cx="1385.8" cy="757.24" r="1.9"/><circle cx="1387.49" cy="762.25" r="1.9"/><circle cx="1385.98" cy="767.26" r="1.9"/><circle cx="1387.66" cy="772.28" r="1.9"/><circle cx="1386.15" cy="777.29" r="1.9"/><circle cx="1387.84" cy="782.3" r="1.9"/><circle cx="1386.33" cy="787.31" r="1.9"/><circle cx="1388.01" cy="792.32" r="1.9"/><circle cx="1386.5" cy="797.33" r="1.9"/><circle cx="1388.19" cy="802.34" r="1.9"/><circle cx="1386.67" cy="807.35" r="1.9"/><circle cx="1388.36" cy="812.36" r="1.9"/><circle cx="1386.85" cy="817.37" r="1.9"/><circle cx="1388.54" cy="822.38" r="1.9"/><circle cx="1387.03" cy="827.39" r="1.9"/><circle cx="1388.71" cy="832.4" r="1.9"/><circle cx="1387.2" cy="837.41" r="1.9"/><circle cx="1388.89" cy="842.42" r="1.9"/><circle cx="1387.38" cy="847.44" r="1.9"/><circle cx="1389.06" cy="852.45" r="1.9"/><circle cx="1387.55" cy="857.46" r="1.9"/><circle cx="1389.24" cy="862.47" r="1.9"/><circle cx="1387.73" cy="867.48" r="1.9"/><circle cx="1389.41" cy="872.49" r="1.9"/><circle cx="1422.13" cy="730.9" r="1.9"/><circle cx="1420.62" cy="735.91" r="1.9"/><circle cx="1422.3" cy="740.91" r="1.9"/><circle cx="1420.79" cy="745.91" r="1.9"/><circle cx="1422.47" cy="750.92" r="1.9"/><circle cx="1420.96" cy="755.92" r="1.9"/><circle cx="1422.64" cy="760.92" r="1.9"/><circle cx="1421.13" cy="765.93" r="1.9"/><circle cx="1422.81" cy="770.93" r="1.9"/><circle cx="1421.29" cy="775.93" r="1.9"/><circle cx="1422.98" cy="780.94" r="1.9"/><circle cx="1421.46" cy="785.94" r="1.9"/><circle cx="1423.15" cy="790.94" r="1.9"/><circle cx="1421.63" cy="795.95" r="1.9"/><circle cx="1423.32" cy="800.95" r="1.9"/><circle cx="1421.8" cy="805.96" r="1.9"/><circle cx="1423.49" cy="810.96" r="1.9"/><circle cx="1421.97" cy="815.96" r="1.9"/><circle cx="1423.66" cy="820.97" r="1.9"/><circle cx="1422.14" cy="825.97" r="1.9"/><circle cx="1423.82" cy="830.97" r="1.9"/><circle cx="1422.31" cy="835.98" r="1.9"/><circle cx="1423.99" cy="840.98" r="1.9"/><circle cx="1422.48" cy="845.98" r="1.9"/><circle cx="1424.16" cy="850.99" r="1.9"/><circle cx="1422.65" cy="855.99" r="1.9"/><circle cx="1424.33" cy="860.99" r="1.9"/><circle cx="1422.82" cy="866" r="1.9"/><circle cx="1454.49" cy="719.66" r="1.9"/><circle cx="1452.97" cy="724.81" r="1.9"/><circle cx="1454.66" cy="729.97" r="1.9"/><circle cx="1453.14" cy="735.12" r="1.9"/><circle cx="1454.83" cy="740.28" r="1.9"/><circle cx="1453.32" cy="745.43" r="1.9"/><circle cx="1455" cy="750.59" r="1.9"/><circle cx="1453.49" cy="755.74" r="1.9"/><circle cx="1455.18" cy="760.9" r="1.9"/><circle cx="1453.66" cy="766.05" r="1.9"/><circle cx="1455.35" cy="771.21" r="1.9"/><circle cx="1453.83" cy="776.36" r="1.9"/><circle cx="1455.52" cy="781.52" r="1.9"/><circle cx="1454.01" cy="786.67" r="1.9"/><circle cx="1455.69" cy="791.83" r="1.9"/><circle cx="1454.18" cy="796.98" r="1.9"/><circle cx="1455.87" cy="802.14" r="1.9"/><circle cx="1454.35" cy="807.29" r="1.9"/><circle cx="1456.04" cy="812.45" r="1.9"/><circle cx="1454.52" cy="817.6" r="1.9"/><circle cx="1456.21" cy="822.76" r="1.9"/><circle cx="1454.7" cy="827.91" r="1.9"/><circle cx="1456.38" cy="833.07" r="1.9"/><circle cx="1454.87" cy="838.22" r="1.9"/><circle cx="1456.56" cy="843.38" r="1.9"/><circle cx="1455.04" cy="848.53" r="1.9"/><circle cx="1456.73" cy="853.69" r="1.9"/><circle cx="1455.21" cy="858.84" r="1.9"/><circle cx="1485.37" cy="708.05" r="1.9"/><circle cx="1483.85" cy="713.19" r="1.9"/><circle cx="1485.52" cy="718.34" r="1.9"/><circle cx="1483.99" cy="723.49" r="1.9"/><circle cx="1485.67" cy="728.63" r="1.9"/><circle cx="1484.14" cy="733.78" r="1.9"/><circle cx="1485.81" cy="738.93" r="1.9"/><circle cx="1484.29" cy="744.07" r="1.9"/><circle cx="1485.96" cy="749.22" r="1.9"/><circle cx="1484.43" cy="754.37" r="1.9"/><circle cx="1486.11" cy="759.51" r="1.9"/><circle cx="1484.58" cy="764.66" r="1.9"/><circle cx="1486.25" cy="769.81" r="1.9"/><circle cx="1484.73" cy="774.95" r="1.9"/><circle cx="1486.4" cy="780.1" r="1.9"/><circle cx="1484.87" cy="785.25" r="1.9"/><circle cx="1486.55" cy="790.39" r="1.9"/><circle cx="1485.02" cy="795.54" r="1.9"/><circle cx="1486.69" cy="800.69" r="1.9"/><circle cx="1485.17" cy="805.83" r="1.9"/><circle cx="1486.84" cy="810.98" r="1.9"/><circle cx="1485.31" cy="816.13" r="1.9"/><circle cx="1486.99" cy="821.27" r="1.9"/><circle cx="1485.46" cy="826.42" r="1.9"/><circle cx="1487.13" cy="831.57" r="1.9"/><circle cx="1485.61" cy="836.71" r="1.9"/><circle cx="1487.28" cy="841.86" r="1.9"/><circle cx="1485.75" cy="847.01" r="1.9"/><circle cx="1487.43" cy="852.15" r="1.9"/><circle cx="1514.63" cy="695.55" r="1.9"/><circle cx="1513.11" cy="700.7" r="1.9"/><circle cx="1514.79" cy="705.85" r="1.9"/><circle cx="1513.27" cy="710.99" r="1.9"/><circle cx="1514.95" cy="716.14" r="1.9"/><circle cx="1513.42" cy="721.29" r="1.9"/><circle cx="1515.1" cy="726.44" r="1.9"/><circle cx="1513.58" cy="731.59" r="1.9"/><circle cx="1515.26" cy="736.74" r="1.9"/><circle cx="1513.74" cy="741.88" r="1.9"/><circle cx="1515.42" cy="747.03" r="1.9"/><circle cx="1513.9" cy="752.18" r="1.9"/><circle cx="1515.58" cy="757.33" r="1.9"/><circle cx="1514.06" cy="762.48" r="1.9"/><circle cx="1515.74" cy="767.63" r="1.9"/><circle cx="1514.21" cy="772.77" r="1.9"/><circle cx="1515.89" cy="777.92" r="1.9"/><circle cx="1514.37" cy="783.07" r="1.9"/><circle cx="1516.05" cy="788.22" r="1.9"/><circle cx="1514.53" cy="793.37" r="1.9"/><circle cx="1516.21" cy="798.52" r="1.9"/><circle cx="1514.69" cy="803.66" r="1.9"/><circle cx="1516.37" cy="808.81" r="1.9"/><circle cx="1514.85" cy="813.96" r="1.9"/><circle cx="1516.53" cy="819.11" r="1.9"/><circle cx="1515" cy="824.26" r="1.9"/><circle cx="1516.68" cy="829.41" r="1.9"/><circle cx="1515.16" cy="834.55" r="1.9"/><circle cx="1516.84" cy="839.7" r="1.9"/><circle cx="1515.32" cy="844.85" r="1.9"/><circle cx="1542.85" cy="681.35" r="1.9"/><circle cx="1541.31" cy="686.5" r="1.9"/><circle cx="1542.96" cy="691.65" r="1.9"/><circle cx="1541.41" cy="696.8" r="1.9"/><circle cx="1543.07" cy="701.95" r="1.9"/><circle cx="1541.52" cy="707.1" r="1.9"/><circle cx="1543.17" cy="712.25" r="1.9"/><circle cx="1541.62" cy="717.4" r="1.9"/><circle cx="1543.28" cy="722.55" r="1.9"/><circle cx="1541.73" cy="727.7" r="1.9"/><circle cx="1543.38" cy="732.85" r="1.9"/><circle cx="1541.84" cy="738" r="1.9"/><circle cx="1543.49" cy="743.15" r="1.9"/><circle cx="1541.94" cy="748.3" r="1.9"/><circle cx="1543.6" cy="753.45" r="1.9"/><circle cx="1542.05" cy="758.6" r="1.9"/><circle cx="1543.7" cy="763.75" r="1.9"/><circle cx="1542.16" cy="768.9" r="1.9"/><circle cx="1543.81" cy="774.05" r="1.9"/><circle cx="1542.26" cy="779.2" r="1.9"/><circle cx="1543.92" cy="784.35" r="1.9"/><circle cx="1542.37" cy="789.5" r="1.9"/><circle cx="1544.02" cy="794.65" r="1.9"/><circle cx="1542.48" cy="799.8" r="1.9"/><circle cx="1544.13" cy="804.95" r="1.9"/><circle cx="1542.58" cy="810.1" r="1.9"/><circle cx="1544.23" cy="815.25" r="1.9"/><circle cx="1542.69" cy="820.4" r="1.9"/><circle cx="1544.34" cy="825.55" r="1.9"/><circle cx="1542.79" cy="830.7" r="1.9"/><circle cx="1544.45" cy="835.85" r="1.9"/><circle cx="1570.23" cy="666.64" r="1.9"/><circle cx="1568.66" cy="671.69" r="1.9"/><circle cx="1570.3" cy="676.73" r="1.9"/><circle cx="1568.73" cy="681.78" r="1.9"/><circle cx="1570.36" cy="686.82" r="1.9"/><circle cx="1568.79" cy="691.86" r="1.9"/><circle cx="1570.43" cy="696.91" r="1.9"/><circle cx="1568.86" cy="701.95" r="1.9"/><circle cx="1570.49" cy="707" r="1.9"/><circle cx="1568.92" cy="712.04" r="1.9"/><circle cx="1570.56" cy="717.09" r="1.9"/><circle cx="1568.99" cy="722.13" r="1.9"/><circle cx="1570.62" cy="727.17" r="1.9"/><circle cx="1569.05" cy="732.22" r="1.9"/><circle cx="1570.69" cy="737.26" r="1.9"/><circle cx="1569.12" cy="742.31" r="1.9"/><circle cx="1570.75" cy="747.35" r="1.9"/><circle cx="1569.18" cy="752.39" r="1.9"/><circle cx="1570.81" cy="757.44" r="1.9"/><circle cx="1569.25" cy="762.48" r="1.9"/><circle cx="1570.88" cy="767.53" r="1.9"/><circle cx="1569.31" cy="772.57" r="1.9"/><circle cx="1570.94" cy="777.61" r="1.9"/><circle cx="1569.38" cy="782.66" r="1.9"/><circle cx="1571.01" cy="787.7" r="1.9"/><circle cx="1569.44" cy="792.75" r="1.9"/><circle cx="1571.07" cy="797.79" r="1.9"/><circle cx="1569.51" cy="802.84" r="1.9"/><circle cx="1571.14" cy="807.88" r="1.9"/><circle cx="1569.57" cy="812.92" r="1.9"/><circle cx="1571.2" cy="817.97" r="1.9"/><circle cx="1569.64" cy="823.01" r="1.9"/><circle cx="1571.27" cy="828.06" r="1.9"/><circle cx="1595.55" cy="648.03" r="1.9"/><circle cx="1594" cy="653.16" r="1.9"/><circle cx="1595.65" cy="658.29" r="1.9"/><circle cx="1594.11" cy="663.43" r="1.9"/><circle cx="1595.76" cy="668.56" r="1.9"/><circle cx="1594.21" cy="673.69" r="1.9"/><circle cx="1595.86" cy="678.82" r="1.9"/><circle cx="1594.31" cy="683.95" r="1.9"/><circle cx="1595.96" cy="689.08" r="1.9"/><circle cx="1594.41" cy="694.21" r="1.9"/><circle cx="1596.07" cy="699.35" r="1.9"/><circle cx="1594.52" cy="704.48" r="1.9"/><circle cx="1596.17" cy="709.61" r="1.9"/><circle cx="1594.62" cy="714.74" r="1.9"/><circle cx="1596.27" cy="719.87" r="1.9"/><circle cx="1594.72" cy="725" r="1.9"/><circle cx="1596.37" cy="730.13" r="1.9"/><circle cx="1594.83" cy="735.27" r="1.9"/><circle cx="1596.48" cy="740.4" r="1.9"/><circle cx="1594.93" cy="745.53" r="1.9"/><circle cx="1596.58" cy="750.66" r="1.9"/><circle cx="1595.03" cy="755.79" r="1.9"/><circle cx="1596.68" cy="760.92" r="1.9"/><circle cx="1595.13" cy="766.05" r="1.9"/><circle cx="1596.79" cy="771.19" r="1.9"/><circle cx="1595.24" cy="776.32" r="1.9"/><circle cx="1596.89" cy="781.45" r="1.9"/><circle cx="1595.34" cy="786.58" r="1.9"/><circle cx="1596.99" cy="791.71" r="1.9"/><circle cx="1595.44" cy="796.84" r="1.9"/><circle cx="1597.09" cy="801.97" r="1.9"/><circle cx="1595.55" cy="807.11" r="1.9"/><circle cx="1597.2" cy="812.24" r="1.9"/><circle cx="1595.65" cy="817.37" r="1.9"/><circle cx="1620.04" cy="626.83" r="1.9"/><circle cx="1618.48" cy="631.96" r="1.9"/><circle cx="1620.12" cy="637.09" r="1.9"/><circle cx="1618.56" cy="642.22" r="1.9"/><circle cx="1620.2" cy="647.35" r="1.9"/><circle cx="1618.64" cy="652.48" r="1.9"/><circle cx="1620.28" cy="657.61" r="1.9"/><circle cx="1618.72" cy="662.74" r="1.9"/><circle cx="1620.36" cy="667.87" r="1.9"/><circle cx="1618.81" cy="673" r="1.9"/><circle cx="1620.45" cy="678.13" r="1.9"/><circle cx="1618.89" cy="683.26" r="1.9"/><circle cx="1620.53" cy="688.39" r="1.9"/><circle cx="1618.97" cy="693.52" r="1.9"/><circle cx="1620.61" cy="698.65" r="1.9"/><circle cx="1619.05" cy="703.78" r="1.9"/><circle cx="1620.69" cy="708.91" r="1.9"/><circle cx="1619.13" cy="714.04" r="1.9"/><circle cx="1620.77" cy="719.16" r="1.9"/><circle cx="1619.21" cy="724.29" r="1.9"/><circle cx="1620.85" cy="729.42" r="1.9"/><circle cx="1619.29" cy="734.55" r="1.9"/><circle cx="1620.93" cy="739.68" r="1.9"/><circle cx="1619.37" cy="744.81" r="1.9"/><circle cx="1621.01" cy="749.94" r="1.9"/><circle cx="1619.45" cy="755.07" r="1.9"/><circle cx="1621.09" cy="760.2" r="1.9"/><circle cx="1619.54" cy="765.33" r="1.9"/><circle cx="1621.18" cy="770.46" r="1.9"/><circle cx="1619.62" cy="775.59" r="1.9"/><circle cx="1621.26" cy="780.72" r="1.9"/><circle cx="1619.7" cy="785.85" r="1.9"/><circle cx="1621.34" cy="790.98" r="1.9"/><circle cx="1619.78" cy="796.11" r="1.9"/><circle cx="1621.42" cy="801.24" r="1.9"/><circle cx="1619.86" cy="806.37" r="1.9"/><circle cx="1644.04" cy="603.21" r="1.9"/><circle cx="1642.48" cy="608.22" r="1.9"/><circle cx="1644.11" cy="613.22" r="1.9"/><circle cx="1642.55" cy="618.23" r="1.9"/><circle cx="1644.19" cy="623.24" r="1.9"/><circle cx="1642.62" cy="628.25" r="1.9"/><circle cx="1644.26" cy="633.25" r="1.9"/><circle cx="1642.7" cy="638.26" r="1.9"/><circle cx="1644.34" cy="643.27" r="1.9"/><circle cx="1642.78" cy="648.28" r="1.9"/><circle cx="1644.41" cy="653.28" r="1.9"/><circle cx="1642.85" cy="658.29" r="1.9"/><circle cx="1644.49" cy="663.3" r="1.9"/><circle cx="1642.93" cy="668.31" r="1.9"/><circle cx="1644.56" cy="673.31" r="1.9"/><circle cx="1643" cy="678.32" r="1.9"/><circle cx="1644.64" cy="683.33" r="1.9"/><circle cx="1643.08" cy="688.34" r="1.9"/><circle cx="1644.71" cy="693.34" r="1.9"/><circle cx="1643.15" cy="698.35" r="1.9"/><circle cx="1644.79" cy="703.36" r="1.9"/><circle cx="1643.23" cy="708.37" r="1.9"/><circle cx="1644.86" cy="713.37" r="1.9"/><circle cx="1643.3" cy="718.38" r="1.9"/><circle cx="1644.94" cy="723.39" r="1.9"/><circle cx="1643.38" cy="728.39" r="1.9"/><circle cx="1645.01" cy="733.4" r="1.9"/><circle cx="1643.45" cy="738.41" r="1.9"/><circle cx="1645.09" cy="743.42" r="1.9"/><circle cx="1643.53" cy="748.42" r="1.9"/><circle cx="1645.16" cy="753.43" r="1.9"/><circle cx="1643.6" cy="758.44" r="1.9"/><circle cx="1645.24" cy="763.45" r="1.9"/><circle cx="1643.68" cy="768.46" r="1.9"/><circle cx="1645.31" cy="773.46" r="1.9"/><circle cx="1643.75" cy="778.47" r="1.9"/><circle cx="1645.39" cy="783.48" r="1.9"/><circle cx="1643.83" cy="788.49" r="1.9"/><circle cx="1645.46" cy="793.49" r="1.9"/><circle cx="1666.44" cy="571.8" r="1.9"/><circle cx="1664.87" cy="576.81" r="1.9"/><circle cx="1666.51" cy="581.81" r="1.9"/><circle cx="1664.95" cy="586.82" r="1.9"/><circle cx="1666.59" cy="591.82" r="1.9"/><circle cx="1665.02" cy="596.83" r="1.9"/><circle cx="1666.66" cy="601.83" r="1.9"/><circle cx="1665.1" cy="606.84" r="1.9"/><circle cx="1666.73" cy="611.84" r="1.9"/><circle cx="1665.17" cy="616.85" r="1.9"/><circle cx="1666.81" cy="621.85" r="1.9"/><circle cx="1665.25" cy="626.86" r="1.9"/><circle cx="1666.88" cy="631.86" r="1.9"/><circle cx="1665.32" cy="636.87" r="1.9"/><circle cx="1666.96" cy="641.87" r="1.9"/><circle cx="1665.4" cy="646.87" r="1.9"/><circle cx="1667.03" cy="651.88" r="1.9"/><circle cx="1665.47" cy="656.88" r="1.9"/><circle cx="1667.11" cy="661.89" r="1.9"/><circle cx="1665.54" cy="666.89" r="1.9"/><circle cx="1667.18" cy="671.9" r="1.9"/><circle cx="1665.62" cy="676.9" r="1.9"/><circle cx="1667.26" cy="681.91" r="1.9"/><circle cx="1665.69" cy="686.91" r="1.9"/><circle cx="1667.33" cy="691.92" r="1.9"/><circle cx="1665.77" cy="696.92" r="1.9"/><circle cx="1667.4" cy="701.93" r="1.9"/><circle cx="1665.84" cy="706.93" r="1.9"/><circle cx="1667.48" cy="711.93" r="1.9"/><circle cx="1665.92" cy="716.94" r="1.9"/><circle cx="1667.55" cy="721.94" r="1.9"/><circle cx="1665.99" cy="726.95" r="1.9"/><circle cx="1667.63" cy="731.95" r="1.9"/><circle cx="1666.07" cy="736.96" r="1.9"/><circle cx="1667.7" cy="741.96" r="1.9"/><circle cx="1666.14" cy="746.97" r="1.9"/><circle cx="1667.78" cy="751.97" r="1.9"/><circle cx="1666.21" cy="756.98" r="1.9"/><circle cx="1667.85" cy="761.98" r="1.9"/><circle cx="1666.29" cy="766.99" r="1.9"/><circle cx="1667.93" cy="771.99" r="1.9"/><circle cx="1666.36" cy="777" r="1.9"/><circle cx="1688.72" cy="528.73" r="1.9"/><circle cx="1687.15" cy="533.76" r="1.9"/><circle cx="1688.77" cy="538.78" r="1.9"/><circle cx="1687.19" cy="543.81" r="1.9"/><circle cx="1688.82" cy="548.84" r="1.9"/><circle cx="1687.24" cy="553.87" r="1.9"/><circle cx="1688.86" cy="558.89" r="1.9"/><circle cx="1687.29" cy="563.92" r="1.9"/><circle cx="1688.91" cy="568.95" r="1.9"/><circle cx="1687.33" cy="573.98" r="1.9"/><circle cx="1688.96" cy="579" r="1.9"/><circle cx="1687.38" cy="584.03" r="1.9"/><circle cx="1689" cy="589.06" r="1.9"/><circle cx="1687.43" cy="594.09" r="1.9"/><circle cx="1689.05" cy="599.11" r="1.9"/><circle cx="1687.47" cy="604.14" r="1.9"/><circle cx="1689.1" cy="609.17" r="1.9"/><circle cx="1687.52" cy="614.2" r="1.9"/><circle cx="1689.14" cy="619.23" r="1.9"/><circle cx="1687.57" cy="624.25" r="1.9"/><circle cx="1689.19" cy="629.28" r="1.9"/><circle cx="1687.61" cy="634.31" r="1.9"/><circle cx="1689.24" cy="639.34" r="1.9"/><circle cx="1687.66" cy="644.36" r="1.9"/><circle cx="1689.29" cy="649.39" r="1.9"/><circle cx="1687.71" cy="654.42" r="1.9"/><circle cx="1689.33" cy="659.45" r="1.9"/><circle cx="1687.76" cy="664.47" r="1.9"/><circle cx="1689.38" cy="669.5" r="1.9"/><circle cx="1687.8" cy="674.53" r="1.9"/><circle cx="1689.43" cy="679.56" r="1.9"/><circle cx="1687.85" cy="684.59" r="1.9"/><circle cx="1689.47" cy="689.61" r="1.9"/><circle cx="1687.9" cy="694.64" r="1.9"/><circle cx="1689.52" cy="699.67" r="1.9"/><circle cx="1687.94" cy="704.7" r="1.9"/><circle cx="1689.57" cy="709.72" r="1.9"/><circle cx="1687.99" cy="714.75" r="1.9"/><circle cx="1689.61" cy="719.78" r="1.9"/><circle cx="1688.04" cy="724.81" r="1.9"/><circle cx="1689.66" cy="729.83" r="1.9"/><circle cx="1688.08" cy="734.86" r="1.9"/><circle cx="1689.71" cy="739.89" r="1.9"/><circle cx="1688.13" cy="744.92" r="1.9"/><circle cx="1689.75" cy="749.94" r="1.9"/><circle cx="1688.18" cy="754.97" r="1.9"/><circle cx="1710.13" cy="459.74" r="1.9"/><circle cx="1708.55" cy="464.78" r="1.9"/><circle cx="1710.18" cy="469.82" r="1.9"/><circle cx="1708.61" cy="474.86" r="1.9"/><circle cx="1710.24" cy="479.9" r="1.9"/><circle cx="1708.66" cy="484.94" r="1.9"/><circle cx="1710.29" cy="489.98" r="1.9"/><circle cx="1708.72" cy="495.02" r="1.9"/><circle cx="1710.34" cy="500.06" r="1.9"/><circle cx="1708.77" cy="505.1" r="1.9"/><circle cx="1710.4" cy="510.14" r="1.9"/><circle cx="1708.83" cy="515.18" r="1.9"/><circle cx="1710.45" cy="520.22" r="1.9"/><circle cx="1708.88" cy="525.26" r="1.9"/><circle cx="1710.51" cy="530.3" r="1.9"/><circle cx="1708.93" cy="535.34" r="1.9"/><circle cx="1710.56" cy="540.38" r="1.9"/><circle cx="1708.99" cy="545.42" r="1.9"/><circle cx="1710.62" cy="550.46" r="1.9"/><circle cx="1709.04" cy="555.5" r="1.9"/><circle cx="1710.67" cy="560.54" r="1.9"/><circle cx="1709.1" cy="565.58" r="1.9"/><circle cx="1710.72" cy="570.62" r="1.9"/><circle cx="1709.15" cy="575.66" r="1.9"/><circle cx="1710.78" cy="580.7" r="1.9"/><circle cx="1709.21" cy="585.74" r="1.9"/><circle cx="1710.83" cy="590.78" r="1.9"/><circle cx="1709.26" cy="595.82" r="1.9"/><circle cx="1710.89" cy="600.86" r="1.9"/><circle cx="1709.31" cy="605.9" r="1.9"/><circle cx="1710.94" cy="610.94" r="1.9"/><circle cx="1709.37" cy="615.98" r="1.9"/><circle cx="1711" cy="621.02" r="1.9"/><circle cx="1709.42" cy="626.06" r="1.9"/><circle cx="1711.05" cy="631.1" r="1.9"/><circle cx="1709.48" cy="636.14" r="1.9"/><circle cx="1711.1" cy="641.18" r="1.9"/><circle cx="1709.53" cy="646.22" r="1.9"/><circle cx="1711.16" cy="651.26" r="1.9"/><circle cx="1709.59" cy="656.3" r="1.9"/><circle cx="1711.21" cy="661.34" r="1.9"/><circle cx="1709.64" cy="666.38" r="1.9"/><circle cx="1711.27" cy="671.42" r="1.9"/><circle cx="1709.69" cy="676.46" r="1.9"/><circle cx="1711.32" cy="681.5" r="1.9"/><circle cx="1709.75" cy="686.54" r="1.9"/><circle cx="1711.38" cy="691.58" r="1.9"/><circle cx="1709.8" cy="696.62" r="1.9"/><circle cx="1711.43" cy="701.66" r="1.9"/><circle cx="1709.86" cy="706.7" r="1.9"/><circle cx="1711.48" cy="711.74" r="1.9"/><circle cx="1709.91" cy="716.78" r="1.9"/><circle cx="1711.54" cy="721.82" r="1.9"/><circle cx="1709.97" cy="726.86" r="1.9"/><circle cx="1711.59" cy="731.9" r="1.9"/><circle cx="1710.02" cy="736.94" r="1.9"/><circle cx="1711.65" cy="741.98" r="1.9"/><circle cx="1710.07" cy="747.02" r="1.9"/><circle cx="1711.7" cy="752.06" r="1.9"/><circle cx="1710.13" cy="757.1" r="1.9"/><circle cx="1711.76" cy="762.14" r="1.9"/><circle cx="1710.18" cy="767.18" r="1.9"/><circle cx="1711.81" cy="772.22" r="1.9"/><circle cx="1710.24" cy="777.26" r="1.9"/><circle cx="1711.86" cy="782.3" r="1.9"/><circle cx="1710.29" cy="787.34" r="1.9"/><circle cx="1711.92" cy="792.38" r="1.9"/><circle cx="1710.35" cy="797.42" r="1.9"/><circle cx="1711.97" cy="802.46" r="1.9"/></g>
<path d="M1729.8 1051.5 L1728.5 60" stroke-width="2.6" stroke-linecap="butt"/>
<path d="M1731.0 1051.5 L1731.0 700 L1730.9 625 L1729.5 600 L1729.4 440" stroke-width="3.6"/>
<circle cx="1730.8" cy="448" r="2.0" fill="#000" stroke="none"/><circle cx="1730.8" cy="457" r="2.0" fill="#000" stroke="none"/><circle cx="1730.8" cy="462" r="2.0" fill="#000" stroke="none"/><circle cx="1730.8" cy="483" r="2.0" fill="#000" stroke="none"/><circle cx="1730.8" cy="495" r="2.0" fill="#000" stroke="none"/><circle cx="1730.8" cy="509" r="2.0" fill="#000" stroke="none"/><circle cx="1730.8" cy="530" r="2.0" fill="#000" stroke="none"/><circle cx="1730.8" cy="537" r="2.0" fill="#000" stroke="none"/><circle cx="1730.8" cy="545" r="2.0" fill="#000" stroke="none"/><circle cx="1730.8" cy="553" r="2.0" fill="#000" stroke="none"/><circle cx="1730.8" cy="570" r="2.0" fill="#000" stroke="none"/><circle cx="1730.8" cy="578" r="2.0" fill="#000" stroke="none"/><circle cx="1730.8" cy="590" r="2.0" fill="#000" stroke="none"/><circle cx="1730.8" cy="600" r="2.0" fill="#000" stroke="none"/><circle cx="1730.8" cy="610" r="2.0" fill="#000" stroke="none"/><circle cx="1730.8" cy="618" r="2.0" fill="#000" stroke="none"/>
</g>
<g fill="#000">
<rect x="249.945" y="143.945" width="1551.11" height="1.11"/>
<rect x="249.945" y="1067.945" width="1551.11" height="1.11"/>
<rect x="249.945" y="143.945" width="1.11" height="925.11"/>
<rect x="1799.945" y="143.945" width="1.11" height="925.11"/>
<rect x="294.222" y="1068.6" width="5.556" height="10.511"/>
<rect x="342.222" y="1068.6" width="5.556" height="16.067"/>
<rect x="391.222" y="1068.6" width="5.556" height="10.511"/>
<rect x="440.222" y="1068.6" width="5.556" height="10.511"/>
<rect x="489.222" y="1068.6" width="5.556" height="10.511"/>
<rect x="538.222" y="1068.6" width="5.556" height="16.067"/>
<rect x="587.222" y="1068.6" width="5.556" height="10.511"/>
<rect x="635.222" y="1068.6" width="5.556" height="10.511"/>
<rect x="684.222" y="1068.6" width="5.556" height="10.511"/>
<rect x="733.222" y="1068.6" width="5.556" height="16.067"/>
<rect x="782.222" y="1068.6" width="5.556" height="10.511"/>
<rect x="831.222" y="1068.6" width="5.556" height="10.511"/>
<rect x="879.222" y="1068.6" width="5.556" height="10.511"/>
<rect x="928.222" y="1068.6" width="5.556" height="16.067"/>
<rect x="977.222" y="1068.6" width="5.556" height="10.511"/>
<rect x="1026.222" y="1068.6" width="5.556" height="10.511"/>
<rect x="1075.222" y="1068.6" width="5.556" height="10.511"/>
<rect x="1124.222" y="1068.6" width="5.556" height="16.067"/>
<rect x="1172.222" y="1068.6" width="5.556" height="10.511"/>
<rect x="1221.222" y="1068.6" width="5.556" height="10.511"/>
<rect x="1270.222" y="1068.6" width="5.556" height="10.511"/>
<rect x="1319.222" y="1068.6" width="5.556" height="16.067"/>
<rect x="1368.222" y="1068.6" width="5.556" height="10.511"/>
<rect x="1416.222" y="1068.6" width="5.556" height="10.511"/>
<rect x="1465.222" y="1068.6" width="5.556" height="10.511"/>
<rect x="1514.222" y="1068.6" width="5.556" height="16.067"/>
<rect x="1563.222" y="1068.6" width="5.556" height="10.511"/>
<rect x="1612.222" y="1068.6" width="5.556" height="10.511"/>
<rect x="1661.222" y="1068.6" width="5.556" height="10.511"/>
<rect x="1709.222" y="1068.6" width="5.556" height="16.067"/>
<rect x="1758.222" y="1068.6" width="5.556" height="10.511"/>
<rect x="233.333" y="1049.222" width="16.667" height="5.556"/>
<rect x="238.889" y="1016.222" width="11.111" height="5.556"/>
<rect x="238.889" y="984.222" width="11.111" height="5.556"/>
<rect x="238.889" y="951.222" width="11.111" height="5.556"/>
<rect x="238.889" y="918.222" width="11.111" height="5.556"/>
<rect x="233.333" y="886.222" width="16.667" height="5.556"/>
<rect x="238.889" y="853.222" width="11.111" height="5.556"/>
<rect x="238.889" y="820.222" width="11.111" height="5.556"/>
<rect x="238.889" y="788.222" width="11.111" height="5.556"/>
<rect x="238.889" y="755.222" width="11.111" height="5.556"/>
<rect x="233.333" y="722.222" width="16.667" height="5.556"/>
<rect x="238.889" y="690.222" width="11.111" height="5.556"/>
<rect x="238.889" y="657.222" width="11.111" height="5.556"/>
<rect x="238.889" y="624.222" width="11.111" height="5.556"/>
<rect x="238.889" y="592.222" width="11.111" height="5.556"/>
<rect x="233.333" y="559.222" width="16.667" height="5.556"/>
<rect x="238.889" y="526.222" width="11.111" height="5.556"/>
<rect x="238.889" y="494.222" width="11.111" height="5.556"/>
<rect x="238.889" y="461.222" width="11.111" height="5.556"/>
<rect x="238.889" y="428.222" width="11.111" height="5.556"/>
<rect x="233.333" y="396.222" width="16.667" height="5.556"/>
<rect x="238.889" y="363.222" width="11.111" height="5.556"/>
<rect x="238.889" y="330.222" width="11.111" height="5.556"/>
<rect x="238.889" y="298.222" width="11.111" height="5.556"/>
<rect x="238.889" y="265.222" width="11.111" height="5.556"/>
<rect x="233.333" y="232.222" width="16.667" height="5.556"/>
<rect x="238.889" y="200.222" width="11.111" height="5.556"/>
<rect x="238.889" y="167.222" width="11.111" height="5.556"/>
</g>
<g font-family="'DejaVu Sans', 'Liberation Sans', sans-serif" fill="#000">
<text x="345.45" y="1116.97" font-size="36.111" text-anchor="middle">528.6</text>
<text x="540.73" y="1116.97" font-size="36.111" text-anchor="middle">528.8</text>
<text x="736.01" y="1116.97" font-size="36.111" text-anchor="middle">529.0</text>
<text x="931.29" y="1116.97" font-size="36.111" text-anchor="middle">529.2</text>
<text x="1126.57" y="1116.97" font-size="36.111" text-anchor="middle">529.4</text>
<text x="1321.85" y="1116.97" font-size="36.111" text-anchor="middle">529.6</text>
<text x="1517.13" y="1116.97" font-size="36.111" text-anchor="middle">529.8</text>
<text x="1712.41" y="1116.97" font-size="36.111" text-anchor="middle">530.0</text>
<text x="228.47" y="1065.63" font-size="36.111" text-anchor="end">0</text>
<text x="228.47" y="902.25" font-size="36.111" text-anchor="end">100</text>
<text x="228.47" y="738.87" font-size="36.111" text-anchor="end">200</text>
<text x="228.47" y="575.48" font-size="36.111" text-anchor="end">300</text>
<text x="228.47" y="412.10" font-size="36.111" text-anchor="end">400</text>
<text x="228.47" y="248.72" font-size="36.111" text-anchor="end">500</text>
<text x="1025" y="1171.5" font-size="55.556" text-anchor="middle">Age (Myr)</text>
<text transform="translate(142.2 606.7) rotate(-90)" font-size="55.556" text-anchor="middle">O1 period (days)</text>
<text transform="translate(1093.37 812.06) rotate(-80)" font-size="16.200">n=1</text>
<text transform="translate(1145.57 802.06) rotate(-80)" font-size="16.200">n=2</text>
<text transform="translate(1194.57 793.06) rotate(-80)" font-size="16.200">n=3</text>
<text transform="translate(1240.97 782.96) rotate(-80)" font-size="16.200">n=4</text>
<text transform="translate(1283.57 772.86) rotate(-80)" font-size="16.200">n=5</text>
<text transform="translate(1324.47 762.26) rotate(-80)" font-size="16.200">n=6</text>
<text transform="translate(1362.27 752.26) rotate(-80)" font-size="16.200">n=7</text>
<text transform="translate(1398.42 740.76) rotate(-80)" font-size="16.200">n=8</text>
<text transform="translate(1433.42 729.46) rotate(-80)" font-size="16.200">n=9</text>
<text transform="translate(1465.77 718.06) rotate(-80)" font-size="16.200">n=10</text>
<text transform="translate(1496.67 706.46) rotate(-80)" font-size="16.200">n=11</text>
<text transform="translate(1525.92 693.96) rotate(-80)" font-size="16.200">n=12</text>
<text transform="translate(1554.17 679.76) rotate(-80)" font-size="16.200">n=13</text>
<text transform="translate(1581.57 665.16) rotate(-80)" font-size="16.200">n=14</text>
<text transform="translate(1606.87 646.46) rotate(-80)" font-size="16.200">n=15</text>
<text transform="translate(1631.37 625.26) rotate(-80)" font-size="16.200">n=16</text>
<text transform="translate(1655.37 601.76) rotate(-80)" font-size="16.200">n=17</text>
<text transform="translate(1677.77 570.36) rotate(-80)" font-size="16.200">n=18</text>
<text transform="translate(1700.07 527.26) rotate(-80)" font-size="16.200">n=19</text>
<text transform="translate(1721.47 458.26) rotate(-80)" font-size="16.200">n=20</text>
<text transform="translate(1741.67 695.56) rotate(-81)" font-size="16.200">n=21</text>
<text transform="translate(1741.87 694.06) rotate(-80)" font-size="16.200">n=22</text>
<text transform="translate(1742.07 692.56) rotate(-82)" font-size="16.200">n=23</text>
<text transform="translate(1742.27 691.06) rotate(-81)" font-size="16.200">n=24</text>
<text transform="translate(1742.47 689.56) rotate(-82)" font-size="16.200">n=25</text>
</g>
<path d="M268.5 266.5 L627.5 266.5 Q632.5 266.5 632.5 261.5 L632.5 162.5 Q632.5 157.5 627.5 157.5 L268.5 157.5 Q263.5 157.5 263.5 162.5 L263.5 261.5 Q263.5 266.5 268.5 266.5 Z" fill="#fff" fill-opacity="0.8" stroke="#ccc" stroke-width="1.2"/>
<path d="M272.5 176.8 L323.5 176.8" stroke="#000" stroke-width="2.083" stroke-linecap="butt"/>
<circle cx="298.4" cy="177.2" r="1.55" fill="#000" stroke="#000" stroke-width="1.0"/>
<circle cx="298.6" cy="231.5" r="6.9" fill="#ffff00" fill-opacity="0.2" stroke="#ffff00" stroke-opacity="0.2" stroke-width="1.389"/>
<g font-family="'DejaVu Sans', 'Liberation Sans', sans-serif" font-size="25" fill="#000">
<text x="342.5" y="185.5">m2.10_z0.0005</text>
<text x="342.5" y="222.89">intersection w/ P,L,T,R</text>
<text x="342.5" y="250.88">loosely defined</text>
</g>
</svg>
</body></html>
